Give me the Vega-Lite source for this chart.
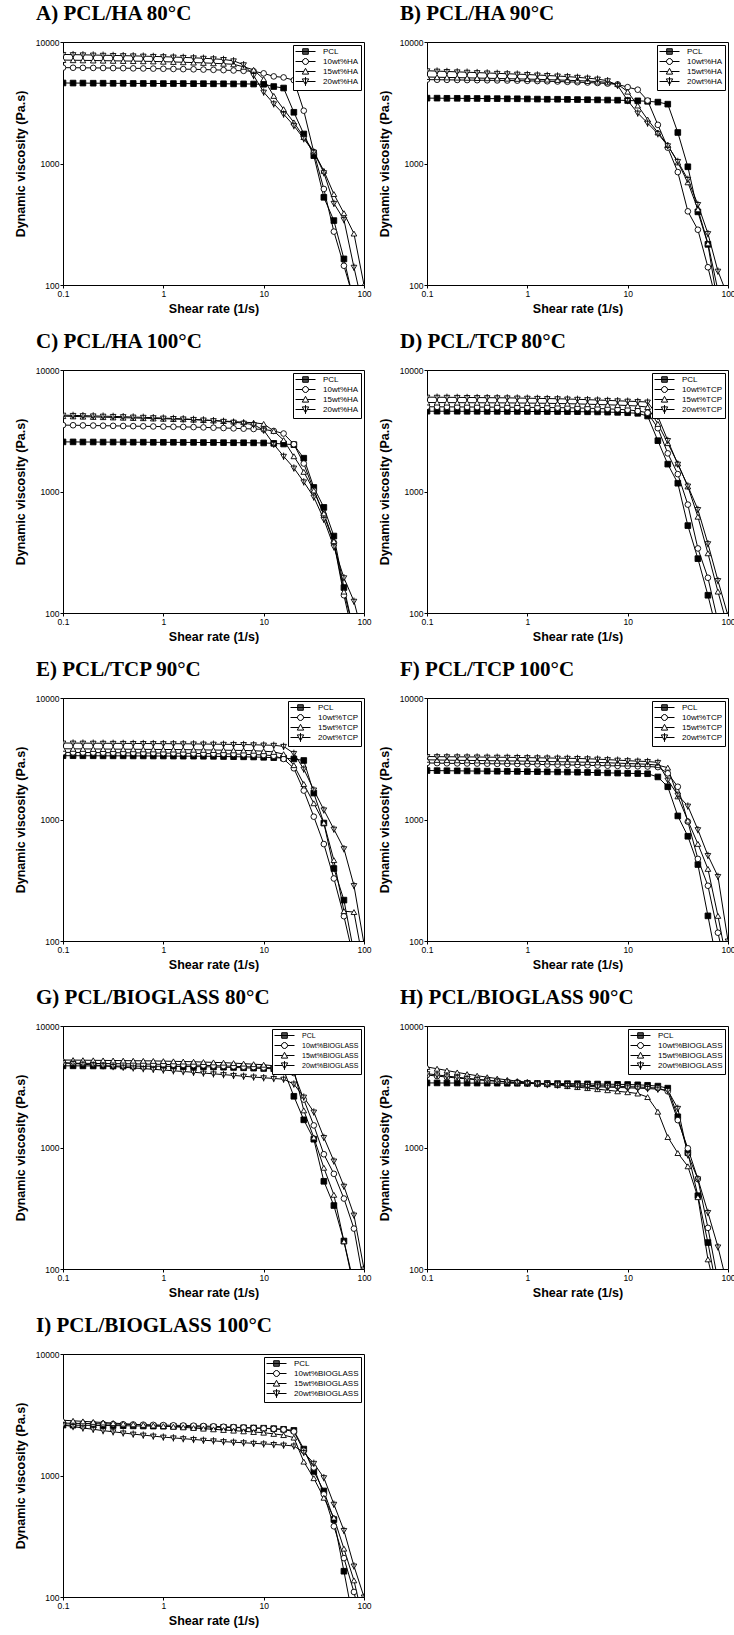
{
"$schema": "https://vega.github.io/schema/vega-lite/v6.json",
"background": "white",
"padding": {"left": 13, "top": 2, "right": 0, "bottom": 0},
"columns": 2,
"spacing": {"row": 14, "column": 5},
"resolve": {"scale": {"shape": "independent", "fill": "independent", "stroke": "independent"}},
"datasets": {
"ha80": [
{"sample":"PCL","rate":0.1,"visc":4600},{"sample":"PCL","rate":0.126,"visc":4590},{"sample":"PCL","rate":0.158,"visc":4590},{"sample":"PCL","rate":0.2,"visc":4580},{"sample":"PCL","rate":0.251,"visc":4580},{"sample":"PCL","rate":0.316,"visc":4570},{"sample":"PCL","rate":0.398,"visc":4570},{"sample":"PCL","rate":0.501,"visc":4560},{"sample":"PCL","rate":0.631,"visc":4560},{"sample":"PCL","rate":0.794,"visc":4560},{"sample":"PCL","rate":1,"visc":4550},{"sample":"PCL","rate":1.26,"visc":4550},{"sample":"PCL","rate":1.58,"visc":4550},{"sample":"PCL","rate":2,"visc":4540},{"sample":"PCL","rate":2.51,"visc":4540},{"sample":"PCL","rate":3.16,"visc":4530},{"sample":"PCL","rate":3.98,"visc":4530},{"sample":"PCL","rate":5.01,"visc":4520},{"sample":"PCL","rate":6.31,"visc":4520},{"sample":"PCL","rate":7.94,"visc":4510},{"sample":"PCL","rate":10,"visc":4490},{"sample":"PCL","rate":12.6,"visc":4300},{"sample":"PCL","rate":15.8,"visc":4180},{"sample":"PCL","rate":20,"visc":2640},{"sample":"PCL","rate":25.1,"visc":1750},{"sample":"PCL","rate":31.6,"visc":1160},{"sample":"PCL","rate":39.8,"visc":527},{"sample":"PCL","rate":50.1,"visc":339},{"sample":"PCL","rate":63.1,"visc":164},{"sample":"PCL","rate":79.4,"visc":72},
{"sample":"10wt%HA","rate":0.1,"visc":6150},{"sample":"10wt%HA","rate":0.126,"visc":6140},{"sample":"10wt%HA","rate":0.158,"visc":6130},{"sample":"10wt%HA","rate":0.2,"visc":6120},{"sample":"10wt%HA","rate":0.251,"visc":6110},{"sample":"10wt%HA","rate":0.316,"visc":6100},{"sample":"10wt%HA","rate":0.398,"visc":6090},{"sample":"10wt%HA","rate":0.501,"visc":6070},{"sample":"10wt%HA","rate":0.631,"visc":6060},{"sample":"10wt%HA","rate":0.794,"visc":6040},{"sample":"10wt%HA","rate":1,"visc":6020},{"sample":"10wt%HA","rate":1.26,"visc":6000},{"sample":"10wt%HA","rate":1.58,"visc":5980},{"sample":"10wt%HA","rate":2,"visc":5960},{"sample":"10wt%HA","rate":2.51,"visc":5930},{"sample":"10wt%HA","rate":3.16,"visc":5900},{"sample":"10wt%HA","rate":3.98,"visc":5870},{"sample":"10wt%HA","rate":5.01,"visc":5830},{"sample":"10wt%HA","rate":6.31,"visc":5790},{"sample":"10wt%HA","rate":7.94,"visc":5740},{"sample":"10wt%HA","rate":10,"visc":5520},{"sample":"10wt%HA","rate":12.6,"visc":5210},{"sample":"10wt%HA","rate":15.8,"visc":5110},{"sample":"10wt%HA","rate":20,"visc":4850},{"sample":"10wt%HA","rate":25.1,"visc":2720},{"sample":"10wt%HA","rate":31.6,"visc":1240},{"sample":"10wt%HA","rate":39.8,"visc":617},{"sample":"10wt%HA","rate":50.1,"visc":275},{"sample":"10wt%HA","rate":63.1,"visc":144},{"sample":"10wt%HA","rate":79.4,"visc":75},
{"sample":"15wt%HA","rate":0.1,"visc":7100},{"sample":"15wt%HA","rate":0.126,"visc":7080},{"sample":"15wt%HA","rate":0.158,"visc":7060},{"sample":"15wt%HA","rate":0.2,"visc":7040},{"sample":"15wt%HA","rate":0.251,"visc":7020},{"sample":"15wt%HA","rate":0.316,"visc":7000},{"sample":"15wt%HA","rate":0.398,"visc":6980},{"sample":"15wt%HA","rate":0.501,"visc":6960},{"sample":"15wt%HA","rate":0.631,"visc":6940},{"sample":"15wt%HA","rate":0.794,"visc":6920},{"sample":"15wt%HA","rate":1,"visc":6880},{"sample":"15wt%HA","rate":1.26,"visc":6850},{"sample":"15wt%HA","rate":1.58,"visc":6810},{"sample":"15wt%HA","rate":2,"visc":6770},{"sample":"15wt%HA","rate":2.51,"visc":6730},{"sample":"15wt%HA","rate":3.16,"visc":6680},{"sample":"15wt%HA","rate":3.98,"visc":6620},{"sample":"15wt%HA","rate":5.01,"visc":6550},{"sample":"15wt%HA","rate":6.31,"visc":6250},{"sample":"15wt%HA","rate":7.94,"visc":5900},{"sample":"15wt%HA","rate":10,"visc":4950},{"sample":"15wt%HA","rate":12.6,"visc":3600},{"sample":"15wt%HA","rate":15.8,"visc":2800},{"sample":"15wt%HA","rate":20,"visc":2180},{"sample":"15wt%HA","rate":25.1,"visc":1650},{"sample":"15wt%HA","rate":31.6,"visc":1250},{"sample":"15wt%HA","rate":39.8,"visc":870},{"sample":"15wt%HA","rate":50.1,"visc":560},{"sample":"15wt%HA","rate":63.1,"visc":390},{"sample":"15wt%HA","rate":79.4,"visc":265},{"sample":"15wt%HA","rate":100,"visc":100},
{"sample":"20wt%HA","rate":0.1,"visc":7900},{"sample":"20wt%HA","rate":0.126,"visc":7870},{"sample":"20wt%HA","rate":0.158,"visc":7840},{"sample":"20wt%HA","rate":0.2,"visc":7810},{"sample":"20wt%HA","rate":0.251,"visc":7780},{"sample":"20wt%HA","rate":0.316,"visc":7750},{"sample":"20wt%HA","rate":0.398,"visc":7720},{"sample":"20wt%HA","rate":0.501,"visc":7690},{"sample":"20wt%HA","rate":0.631,"visc":7650},{"sample":"20wt%HA","rate":0.794,"visc":7610},{"sample":"20wt%HA","rate":1,"visc":7570},{"sample":"20wt%HA","rate":1.26,"visc":7520},{"sample":"20wt%HA","rate":1.58,"visc":7470},{"sample":"20wt%HA","rate":2,"visc":7410},{"sample":"20wt%HA","rate":2.51,"visc":7350},{"sample":"20wt%HA","rate":3.16,"visc":7270},{"sample":"20wt%HA","rate":3.98,"visc":7180},{"sample":"20wt%HA","rate":5.01,"visc":7000},{"sample":"20wt%HA","rate":6.31,"visc":6500},{"sample":"20wt%HA","rate":7.94,"visc":5300},{"sample":"20wt%HA","rate":10,"visc":3870},{"sample":"20wt%HA","rate":12.6,"visc":3100},{"sample":"20wt%HA","rate":15.8,"visc":2550},{"sample":"20wt%HA","rate":20,"visc":2050},{"sample":"20wt%HA","rate":25.1,"visc":1600},{"sample":"20wt%HA","rate":31.6,"visc":1240},{"sample":"20wt%HA","rate":39.8,"visc":840},{"sample":"20wt%HA","rate":50.1,"visc":470},{"sample":"20wt%HA","rate":63.1,"visc":345},{"sample":"20wt%HA","rate":79.4,"visc":140},{"sample":"20wt%HA","rate":100,"visc":60}
],
"ha90": [
{"sample":"PCL","rate":0.1,"visc":3450},{"sample":"PCL","rate":0.126,"visc":3450},{"sample":"PCL","rate":0.158,"visc":3440},{"sample":"PCL","rate":0.2,"visc":3440},{"sample":"PCL","rate":0.251,"visc":3430},{"sample":"PCL","rate":0.316,"visc":3430},{"sample":"PCL","rate":0.398,"visc":3420},{"sample":"PCL","rate":0.501,"visc":3420},{"sample":"PCL","rate":0.631,"visc":3410},{"sample":"PCL","rate":0.794,"visc":3410},{"sample":"PCL","rate":1,"visc":3400},{"sample":"PCL","rate":1.26,"visc":3390},{"sample":"PCL","rate":1.58,"visc":3380},{"sample":"PCL","rate":2,"visc":3380},{"sample":"PCL","rate":2.51,"visc":3370},{"sample":"PCL","rate":3.16,"visc":3360},{"sample":"PCL","rate":3.98,"visc":3350},{"sample":"PCL","rate":5.01,"visc":3340},{"sample":"PCL","rate":6.31,"visc":3330},{"sample":"PCL","rate":7.94,"visc":3320},{"sample":"PCL","rate":10,"visc":3300},{"sample":"PCL","rate":12.6,"visc":3280},{"sample":"PCL","rate":15.8,"visc":3250},{"sample":"PCL","rate":20,"visc":3200},{"sample":"PCL","rate":25.1,"visc":3080},{"sample":"PCL","rate":31.6,"visc":1800},{"sample":"PCL","rate":39.8,"visc":940},{"sample":"PCL","rate":50.1,"visc":400},{"sample":"PCL","rate":63.1,"visc":216},{"sample":"PCL","rate":79.4,"visc":68},
{"sample":"10wt%HA","rate":0.1,"visc":4900},{"sample":"10wt%HA","rate":0.126,"visc":4890},{"sample":"10wt%HA","rate":0.158,"visc":4880},{"sample":"10wt%HA","rate":0.2,"visc":4870},{"sample":"10wt%HA","rate":0.251,"visc":4860},{"sample":"10wt%HA","rate":0.316,"visc":4850},{"sample":"10wt%HA","rate":0.398,"visc":4840},{"sample":"10wt%HA","rate":0.501,"visc":4830},{"sample":"10wt%HA","rate":0.631,"visc":4820},{"sample":"10wt%HA","rate":0.794,"visc":4810},{"sample":"10wt%HA","rate":1,"visc":4790},{"sample":"10wt%HA","rate":1.26,"visc":4770},{"sample":"10wt%HA","rate":1.58,"visc":4750},{"sample":"10wt%HA","rate":2,"visc":4730},{"sample":"10wt%HA","rate":2.51,"visc":4700},{"sample":"10wt%HA","rate":3.16,"visc":4670},{"sample":"10wt%HA","rate":3.98,"visc":4640},{"sample":"10wt%HA","rate":5.01,"visc":4600},{"sample":"10wt%HA","rate":6.31,"visc":4550},{"sample":"10wt%HA","rate":7.94,"visc":4480},{"sample":"10wt%HA","rate":10,"visc":4250},{"sample":"10wt%HA","rate":12.6,"visc":4050},{"sample":"10wt%HA","rate":15.8,"visc":3300},{"sample":"10wt%HA","rate":20,"visc":2080},{"sample":"10wt%HA","rate":25.1,"visc":1350},{"sample":"10wt%HA","rate":31.6,"visc":850},{"sample":"10wt%HA","rate":39.8,"visc":404},{"sample":"10wt%HA","rate":50.1,"visc":285},{"sample":"10wt%HA","rate":63.1,"visc":140},{"sample":"10wt%HA","rate":79.4,"visc":65},
{"sample":"15wt%HA","rate":0.1,"visc":5150},{"sample":"15wt%HA","rate":0.126,"visc":5130},{"sample":"15wt%HA","rate":0.158,"visc":5110},{"sample":"15wt%HA","rate":0.2,"visc":5090},{"sample":"15wt%HA","rate":0.251,"visc":5070},{"sample":"15wt%HA","rate":0.316,"visc":5050},{"sample":"15wt%HA","rate":0.398,"visc":5030},{"sample":"15wt%HA","rate":0.501,"visc":5010},{"sample":"15wt%HA","rate":0.631,"visc":4990},{"sample":"15wt%HA","rate":0.794,"visc":4970},{"sample":"15wt%HA","rate":1,"visc":4950},{"sample":"15wt%HA","rate":1.26,"visc":4930},{"sample":"15wt%HA","rate":1.58,"visc":4900},{"sample":"15wt%HA","rate":2,"visc":4870},{"sample":"15wt%HA","rate":2.51,"visc":4840},{"sample":"15wt%HA","rate":3.16,"visc":4810},{"sample":"15wt%HA","rate":3.98,"visc":4770},{"sample":"15wt%HA","rate":5.01,"visc":4720},{"sample":"15wt%HA","rate":6.31,"visc":4650},{"sample":"15wt%HA","rate":7.94,"visc":4500},{"sample":"15wt%HA","rate":10,"visc":3900},{"sample":"15wt%HA","rate":12.6,"visc":3000},{"sample":"15wt%HA","rate":15.8,"visc":2300},{"sample":"15wt%HA","rate":20,"visc":1800},{"sample":"15wt%HA","rate":25.1,"visc":1420},{"sample":"15wt%HA","rate":31.6,"visc":1020},{"sample":"15wt%HA","rate":39.8,"visc":700},{"sample":"15wt%HA","rate":50.1,"visc":420},{"sample":"15wt%HA","rate":63.1,"visc":220},{"sample":"15wt%HA","rate":79.4,"visc":90},
{"sample":"20wt%HA","rate":0.1,"visc":5800},{"sample":"20wt%HA","rate":0.126,"visc":5760},{"sample":"20wt%HA","rate":0.158,"visc":5720},{"sample":"20wt%HA","rate":0.2,"visc":5680},{"sample":"20wt%HA","rate":0.251,"visc":5640},{"sample":"20wt%HA","rate":0.316,"visc":5600},{"sample":"20wt%HA","rate":0.398,"visc":5560},{"sample":"20wt%HA","rate":0.501,"visc":5520},{"sample":"20wt%HA","rate":0.631,"visc":5480},{"sample":"20wt%HA","rate":0.794,"visc":5440},{"sample":"20wt%HA","rate":1,"visc":5400},{"sample":"20wt%HA","rate":1.26,"visc":5350},{"sample":"20wt%HA","rate":1.58,"visc":5300},{"sample":"20wt%HA","rate":2,"visc":5250},{"sample":"20wt%HA","rate":2.51,"visc":5190},{"sample":"20wt%HA","rate":3.16,"visc":5120},{"sample":"20wt%HA","rate":3.98,"visc":5040},{"sample":"20wt%HA","rate":5.01,"visc":4950},{"sample":"20wt%HA","rate":6.31,"visc":4800},{"sample":"20wt%HA","rate":7.94,"visc":4400},{"sample":"20wt%HA","rate":10,"visc":3300},{"sample":"20wt%HA","rate":12.6,"visc":2600},{"sample":"20wt%HA","rate":15.8,"visc":2150},{"sample":"20wt%HA","rate":20,"visc":1760},{"sample":"20wt%HA","rate":25.1,"visc":1400},{"sample":"20wt%HA","rate":31.6,"visc":1040},{"sample":"20wt%HA","rate":39.8,"visc":740},{"sample":"20wt%HA","rate":50.1,"visc":460},{"sample":"20wt%HA","rate":63.1,"visc":265},{"sample":"20wt%HA","rate":79.4,"visc":130},{"sample":"20wt%HA","rate":100,"visc":80}
],
"ha100": [
{"sample":"PCL","rate":0.1,"visc":2560},{"sample":"PCL","rate":0.126,"visc":2560},{"sample":"PCL","rate":0.158,"visc":2555},{"sample":"PCL","rate":0.2,"visc":2555},{"sample":"PCL","rate":0.251,"visc":2550},{"sample":"PCL","rate":0.316,"visc":2550},{"sample":"PCL","rate":0.398,"visc":2550},{"sample":"PCL","rate":0.501,"visc":2545},{"sample":"PCL","rate":0.631,"visc":2545},{"sample":"PCL","rate":0.794,"visc":2540},{"sample":"PCL","rate":1,"visc":2540},{"sample":"PCL","rate":1.26,"visc":2540},{"sample":"PCL","rate":1.58,"visc":2535},{"sample":"PCL","rate":2,"visc":2535},{"sample":"PCL","rate":2.51,"visc":2530},{"sample":"PCL","rate":3.16,"visc":2530},{"sample":"PCL","rate":3.98,"visc":2525},{"sample":"PCL","rate":5.01,"visc":2520},{"sample":"PCL","rate":6.31,"visc":2520},{"sample":"PCL","rate":7.94,"visc":2515},{"sample":"PCL","rate":10,"visc":2510},{"sample":"PCL","rate":12.6,"visc":2490},{"sample":"PCL","rate":15.8,"visc":2460},{"sample":"PCL","rate":20,"visc":2430},{"sample":"PCL","rate":25.1,"visc":1880},{"sample":"PCL","rate":31.6,"visc":1080},{"sample":"PCL","rate":39.8,"visc":740},{"sample":"PCL","rate":50.1,"visc":430},{"sample":"PCL","rate":63.1,"visc":162},{"sample":"PCL","rate":79.4,"visc":70},
{"sample":"10wt%HA","rate":0.1,"visc":3520},{"sample":"10wt%HA","rate":0.126,"visc":3510},{"sample":"10wt%HA","rate":0.158,"visc":3500},{"sample":"10wt%HA","rate":0.2,"visc":3490},{"sample":"10wt%HA","rate":0.251,"visc":3480},{"sample":"10wt%HA","rate":0.316,"visc":3470},{"sample":"10wt%HA","rate":0.398,"visc":3460},{"sample":"10wt%HA","rate":0.501,"visc":3450},{"sample":"10wt%HA","rate":0.631,"visc":3440},{"sample":"10wt%HA","rate":0.794,"visc":3430},{"sample":"10wt%HA","rate":1,"visc":3420},{"sample":"10wt%HA","rate":1.26,"visc":3410},{"sample":"10wt%HA","rate":1.58,"visc":3400},{"sample":"10wt%HA","rate":2,"visc":3390},{"sample":"10wt%HA","rate":2.51,"visc":3370},{"sample":"10wt%HA","rate":3.16,"visc":3350},{"sample":"10wt%HA","rate":3.98,"visc":3330},{"sample":"10wt%HA","rate":5.01,"visc":3310},{"sample":"10wt%HA","rate":6.31,"visc":3290},{"sample":"10wt%HA","rate":7.94,"visc":3270},{"sample":"10wt%HA","rate":10,"visc":3240},{"sample":"10wt%HA","rate":12.6,"visc":3150},{"sample":"10wt%HA","rate":15.8,"visc":3000},{"sample":"10wt%HA","rate":20,"visc":2450},{"sample":"10wt%HA","rate":25.1,"visc":1700},{"sample":"10wt%HA","rate":31.6,"visc":1020},{"sample":"10wt%HA","rate":39.8,"visc":640},{"sample":"10wt%HA","rate":50.1,"visc":380},{"sample":"10wt%HA","rate":63.1,"visc":140},{"sample":"10wt%HA","rate":79.4,"visc":60},
{"sample":"15wt%HA","rate":0.1,"visc":4170},{"sample":"15wt%HA","rate":0.126,"visc":4150},{"sample":"15wt%HA","rate":0.158,"visc":4130},{"sample":"15wt%HA","rate":0.2,"visc":4110},{"sample":"15wt%HA","rate":0.251,"visc":4090},{"sample":"15wt%HA","rate":0.316,"visc":4070},{"sample":"15wt%HA","rate":0.398,"visc":4050},{"sample":"15wt%HA","rate":0.501,"visc":4030},{"sample":"15wt%HA","rate":0.631,"visc":4010},{"sample":"15wt%HA","rate":0.794,"visc":3990},{"sample":"15wt%HA","rate":1,"visc":3970},{"sample":"15wt%HA","rate":1.26,"visc":3950},{"sample":"15wt%HA","rate":1.58,"visc":3930},{"sample":"15wt%HA","rate":2,"visc":3900},{"sample":"15wt%HA","rate":2.51,"visc":3870},{"sample":"15wt%HA","rate":3.16,"visc":3840},{"sample":"15wt%HA","rate":3.98,"visc":3800},{"sample":"15wt%HA","rate":5.01,"visc":3760},{"sample":"15wt%HA","rate":6.31,"visc":3720},{"sample":"15wt%HA","rate":7.94,"visc":3680},{"sample":"15wt%HA","rate":10,"visc":3600},{"sample":"15wt%HA","rate":12.6,"visc":3150},{"sample":"15wt%HA","rate":15.8,"visc":2650},{"sample":"15wt%HA","rate":20,"visc":1950},{"sample":"15wt%HA","rate":25.1,"visc":1450},{"sample":"15wt%HA","rate":31.6,"visc":1020},{"sample":"15wt%HA","rate":39.8,"visc":660},{"sample":"15wt%HA","rate":50.1,"visc":390},{"sample":"15wt%HA","rate":63.1,"visc":150},{"sample":"15wt%HA","rate":79.4,"visc":70},
{"sample":"20wt%HA","rate":0.1,"visc":4250},{"sample":"20wt%HA","rate":0.126,"visc":4230},{"sample":"20wt%HA","rate":0.158,"visc":4210},{"sample":"20wt%HA","rate":0.2,"visc":4190},{"sample":"20wt%HA","rate":0.251,"visc":4170},{"sample":"20wt%HA","rate":0.316,"visc":4150},{"sample":"20wt%HA","rate":0.398,"visc":4130},{"sample":"20wt%HA","rate":0.501,"visc":4100},{"sample":"20wt%HA","rate":0.631,"visc":4080},{"sample":"20wt%HA","rate":0.794,"visc":4050},{"sample":"20wt%HA","rate":1,"visc":4020},{"sample":"20wt%HA","rate":1.26,"visc":3990},{"sample":"20wt%HA","rate":1.58,"visc":3960},{"sample":"20wt%HA","rate":2,"visc":3920},{"sample":"20wt%HA","rate":2.51,"visc":3880},{"sample":"20wt%HA","rate":3.16,"visc":3830},{"sample":"20wt%HA","rate":3.98,"visc":3780},{"sample":"20wt%HA","rate":5.01,"visc":3720},{"sample":"20wt%HA","rate":6.31,"visc":3650},{"sample":"20wt%HA","rate":7.94,"visc":3550},{"sample":"20wt%HA","rate":10,"visc":3200},{"sample":"20wt%HA","rate":12.6,"visc":2450},{"sample":"20wt%HA","rate":15.8,"visc":1950},{"sample":"20wt%HA","rate":20,"visc":1560},{"sample":"20wt%HA","rate":25.1,"visc":1200},{"sample":"20wt%HA","rate":31.6,"visc":900},{"sample":"20wt%HA","rate":39.8,"visc":590},{"sample":"20wt%HA","rate":50.1,"visc":350},{"sample":"20wt%HA","rate":63.1,"visc":195},{"sample":"20wt%HA","rate":79.4,"visc":125},{"sample":"20wt%HA","rate":100,"visc":60}
],
"tcp80": [
{"sample":"PCL","rate":0.1,"visc":4580},{"sample":"PCL","rate":0.126,"visc":4580},{"sample":"PCL","rate":0.158,"visc":4575},{"sample":"PCL","rate":0.2,"visc":4575},{"sample":"PCL","rate":0.251,"visc":4570},{"sample":"PCL","rate":0.316,"visc":4570},{"sample":"PCL","rate":0.398,"visc":4565},{"sample":"PCL","rate":0.501,"visc":4565},{"sample":"PCL","rate":0.631,"visc":4560},{"sample":"PCL","rate":0.794,"visc":4560},{"sample":"PCL","rate":1,"visc":4555},{"sample":"PCL","rate":1.26,"visc":4555},{"sample":"PCL","rate":1.58,"visc":4550},{"sample":"PCL","rate":2,"visc":4550},{"sample":"PCL","rate":2.51,"visc":4545},{"sample":"PCL","rate":3.16,"visc":4540},{"sample":"PCL","rate":3.98,"visc":4530},{"sample":"PCL","rate":5.01,"visc":4520},{"sample":"PCL","rate":6.31,"visc":4500},{"sample":"PCL","rate":7.94,"visc":4480},{"sample":"PCL","rate":10,"visc":4450},{"sample":"PCL","rate":12.6,"visc":4400},{"sample":"PCL","rate":15.8,"visc":4180},{"sample":"PCL","rate":20,"visc":2620},{"sample":"PCL","rate":25.1,"visc":1680},{"sample":"PCL","rate":31.6,"visc":1170},{"sample":"PCL","rate":39.8,"visc":524},{"sample":"PCL","rate":50.1,"visc":280},{"sample":"PCL","rate":63.1,"visc":140},{"sample":"PCL","rate":79.4,"visc":65},
{"sample":"10wt%TCP","rate":0.1,"visc":4980},{"sample":"10wt%TCP","rate":0.126,"visc":4975},{"sample":"10wt%TCP","rate":0.158,"visc":4970},{"sample":"10wt%TCP","rate":0.2,"visc":4965},{"sample":"10wt%TCP","rate":0.251,"visc":4960},{"sample":"10wt%TCP","rate":0.316,"visc":4955},{"sample":"10wt%TCP","rate":0.398,"visc":4950},{"sample":"10wt%TCP","rate":0.501,"visc":4945},{"sample":"10wt%TCP","rate":0.631,"visc":4940},{"sample":"10wt%TCP","rate":0.794,"visc":4935},{"sample":"10wt%TCP","rate":1,"visc":4930},{"sample":"10wt%TCP","rate":1.26,"visc":4920},{"sample":"10wt%TCP","rate":1.58,"visc":4910},{"sample":"10wt%TCP","rate":2,"visc":4900},{"sample":"10wt%TCP","rate":2.51,"visc":4890},{"sample":"10wt%TCP","rate":3.16,"visc":4870},{"sample":"10wt%TCP","rate":3.98,"visc":4850},{"sample":"10wt%TCP","rate":5.01,"visc":4820},{"sample":"10wt%TCP","rate":6.31,"visc":4790},{"sample":"10wt%TCP","rate":7.94,"visc":4750},{"sample":"10wt%TCP","rate":10,"visc":4700},{"sample":"10wt%TCP","rate":12.6,"visc":4600},{"sample":"10wt%TCP","rate":15.8,"visc":4450},{"sample":"10wt%TCP","rate":20,"visc":3320},{"sample":"10wt%TCP","rate":25.1,"visc":2060},{"sample":"10wt%TCP","rate":31.6,"visc":1390},{"sample":"10wt%TCP","rate":39.8,"visc":780},{"sample":"10wt%TCP","rate":50.1,"visc":340},{"sample":"10wt%TCP","rate":63.1,"visc":195},{"sample":"10wt%TCP","rate":79.4,"visc":85},
{"sample":"15wt%TCP","rate":0.1,"visc":5400},{"sample":"15wt%TCP","rate":0.126,"visc":5395},{"sample":"15wt%TCP","rate":0.158,"visc":5390},{"sample":"15wt%TCP","rate":0.2,"visc":5385},{"sample":"15wt%TCP","rate":0.251,"visc":5380},{"sample":"15wt%TCP","rate":0.316,"visc":5375},{"sample":"15wt%TCP","rate":0.398,"visc":5370},{"sample":"15wt%TCP","rate":0.501,"visc":5365},{"sample":"15wt%TCP","rate":0.631,"visc":5360},{"sample":"15wt%TCP","rate":0.794,"visc":5350},{"sample":"15wt%TCP","rate":1,"visc":5340},{"sample":"15wt%TCP","rate":1.26,"visc":5330},{"sample":"15wt%TCP","rate":1.58,"visc":5320},{"sample":"15wt%TCP","rate":2,"visc":5300},{"sample":"15wt%TCP","rate":2.51,"visc":5280},{"sample":"15wt%TCP","rate":3.16,"visc":5260},{"sample":"15wt%TCP","rate":3.98,"visc":5230},{"sample":"15wt%TCP","rate":5.01,"visc":5200},{"sample":"15wt%TCP","rate":6.31,"visc":5170},{"sample":"15wt%TCP","rate":7.94,"visc":5140},{"sample":"15wt%TCP","rate":10,"visc":5100},{"sample":"15wt%TCP","rate":12.6,"visc":5050},{"sample":"15wt%TCP","rate":15.8,"visc":4950},{"sample":"15wt%TCP","rate":20,"visc":3600},{"sample":"15wt%TCP","rate":25.1,"visc":2500},{"sample":"15wt%TCP","rate":31.6,"visc":1700},{"sample":"15wt%TCP","rate":39.8,"visc":1100},{"sample":"15wt%TCP","rate":50.1,"visc":620},{"sample":"15wt%TCP","rate":63.1,"visc":310},{"sample":"15wt%TCP","rate":79.4,"visc":150},{"sample":"15wt%TCP","rate":100,"visc":75},
{"sample":"20wt%TCP","rate":0.1,"visc":5980},{"sample":"20wt%TCP","rate":0.126,"visc":5970},{"sample":"20wt%TCP","rate":0.158,"visc":5960},{"sample":"20wt%TCP","rate":0.2,"visc":5950},{"sample":"20wt%TCP","rate":0.251,"visc":5940},{"sample":"20wt%TCP","rate":0.316,"visc":5930},{"sample":"20wt%TCP","rate":0.398,"visc":5920},{"sample":"20wt%TCP","rate":0.501,"visc":5910},{"sample":"20wt%TCP","rate":0.631,"visc":5900},{"sample":"20wt%TCP","rate":0.794,"visc":5880},{"sample":"20wt%TCP","rate":1,"visc":5860},{"sample":"20wt%TCP","rate":1.26,"visc":5840},{"sample":"20wt%TCP","rate":1.58,"visc":5820},{"sample":"20wt%TCP","rate":2,"visc":5800},{"sample":"20wt%TCP","rate":2.51,"visc":5770},{"sample":"20wt%TCP","rate":3.16,"visc":5740},{"sample":"20wt%TCP","rate":3.98,"visc":5700},{"sample":"20wt%TCP","rate":5.01,"visc":5660},{"sample":"20wt%TCP","rate":6.31,"visc":5620},{"sample":"20wt%TCP","rate":7.94,"visc":5580},{"sample":"20wt%TCP","rate":10,"visc":5540},{"sample":"20wt%TCP","rate":12.6,"visc":5500},{"sample":"20wt%TCP","rate":15.8,"visc":5450},{"sample":"20wt%TCP","rate":20,"visc":4150},{"sample":"20wt%TCP","rate":25.1,"visc":2630},{"sample":"20wt%TCP","rate":31.6,"visc":1680},{"sample":"20wt%TCP","rate":39.8,"visc":1110},{"sample":"20wt%TCP","rate":50.1,"visc":711},{"sample":"20wt%TCP","rate":63.1,"visc":372},{"sample":"20wt%TCP","rate":79.4,"visc":185},{"sample":"20wt%TCP","rate":100,"visc":95}
],
"tcp90": [
{"sample":"PCL","rate":0.1,"visc":3350},{"sample":"PCL","rate":0.126,"visc":3350},{"sample":"PCL","rate":0.158,"visc":3345},{"sample":"PCL","rate":0.2,"visc":3345},{"sample":"PCL","rate":0.251,"visc":3340},{"sample":"PCL","rate":0.316,"visc":3340},{"sample":"PCL","rate":0.398,"visc":3340},{"sample":"PCL","rate":0.501,"visc":3335},{"sample":"PCL","rate":0.631,"visc":3335},{"sample":"PCL","rate":0.794,"visc":3330},{"sample":"PCL","rate":1,"visc":3330},{"sample":"PCL","rate":1.26,"visc":3325},{"sample":"PCL","rate":1.58,"visc":3320},{"sample":"PCL","rate":2,"visc":3320},{"sample":"PCL","rate":2.51,"visc":3315},{"sample":"PCL","rate":3.16,"visc":3310},{"sample":"PCL","rate":3.98,"visc":3300},{"sample":"PCL","rate":5.01,"visc":3290},{"sample":"PCL","rate":6.31,"visc":3280},{"sample":"PCL","rate":7.94,"visc":3270},{"sample":"PCL","rate":10,"visc":3250},{"sample":"PCL","rate":12.6,"visc":3230},{"sample":"PCL","rate":15.8,"visc":3200},{"sample":"PCL","rate":20,"visc":3150},{"sample":"PCL","rate":25.1,"visc":3060},{"sample":"PCL","rate":31.6,"visc":1650},{"sample":"PCL","rate":39.8,"visc":935},{"sample":"PCL","rate":50.1,"visc":395},{"sample":"PCL","rate":63.1,"visc":217},{"sample":"PCL","rate":79.4,"visc":80},
{"sample":"10wt%TCP","rate":0.1,"visc":3570},{"sample":"10wt%TCP","rate":0.126,"visc":3565},{"sample":"10wt%TCP","rate":0.158,"visc":3560},{"sample":"10wt%TCP","rate":0.2,"visc":3555},{"sample":"10wt%TCP","rate":0.251,"visc":3550},{"sample":"10wt%TCP","rate":0.316,"visc":3545},{"sample":"10wt%TCP","rate":0.398,"visc":3540},{"sample":"10wt%TCP","rate":0.501,"visc":3535},{"sample":"10wt%TCP","rate":0.631,"visc":3530},{"sample":"10wt%TCP","rate":0.794,"visc":3525},{"sample":"10wt%TCP","rate":1,"visc":3520},{"sample":"10wt%TCP","rate":1.26,"visc":3515},{"sample":"10wt%TCP","rate":1.58,"visc":3510},{"sample":"10wt%TCP","rate":2,"visc":3500},{"sample":"10wt%TCP","rate":2.51,"visc":3490},{"sample":"10wt%TCP","rate":3.16,"visc":3480},{"sample":"10wt%TCP","rate":3.98,"visc":3470},{"sample":"10wt%TCP","rate":5.01,"visc":3460},{"sample":"10wt%TCP","rate":6.31,"visc":3440},{"sample":"10wt%TCP","rate":7.94,"visc":3420},{"sample":"10wt%TCP","rate":10,"visc":3400},{"sample":"10wt%TCP","rate":12.6,"visc":3350},{"sample":"10wt%TCP","rate":15.8,"visc":3150},{"sample":"10wt%TCP","rate":20,"visc":2640},{"sample":"10wt%TCP","rate":25.1,"visc":1730},{"sample":"10wt%TCP","rate":31.6,"visc":1055},{"sample":"10wt%TCP","rate":39.8,"visc":628},{"sample":"10wt%TCP","rate":50.1,"visc":327},{"sample":"10wt%TCP","rate":63.1,"visc":160},{"sample":"10wt%TCP","rate":79.4,"visc":70},
{"sample":"15wt%TCP","rate":0.1,"visc":3820},{"sample":"15wt%TCP","rate":0.126,"visc":3815},{"sample":"15wt%TCP","rate":0.158,"visc":3810},{"sample":"15wt%TCP","rate":0.2,"visc":3805},{"sample":"15wt%TCP","rate":0.251,"visc":3800},{"sample":"15wt%TCP","rate":0.316,"visc":3795},{"sample":"15wt%TCP","rate":0.398,"visc":3790},{"sample":"15wt%TCP","rate":0.501,"visc":3785},{"sample":"15wt%TCP","rate":0.631,"visc":3780},{"sample":"15wt%TCP","rate":0.794,"visc":3775},{"sample":"15wt%TCP","rate":1,"visc":3770},{"sample":"15wt%TCP","rate":1.26,"visc":3765},{"sample":"15wt%TCP","rate":1.58,"visc":3760},{"sample":"15wt%TCP","rate":2,"visc":3750},{"sample":"15wt%TCP","rate":2.51,"visc":3740},{"sample":"15wt%TCP","rate":3.16,"visc":3730},{"sample":"15wt%TCP","rate":3.98,"visc":3720},{"sample":"15wt%TCP","rate":5.01,"visc":3710},{"sample":"15wt%TCP","rate":6.31,"visc":3700},{"sample":"15wt%TCP","rate":7.94,"visc":3680},{"sample":"15wt%TCP","rate":10,"visc":3650},{"sample":"15wt%TCP","rate":12.6,"visc":3600},{"sample":"15wt%TCP","rate":15.8,"visc":3450},{"sample":"15wt%TCP","rate":20,"visc":2800},{"sample":"15wt%TCP","rate":25.1,"visc":1960},{"sample":"15wt%TCP","rate":31.6,"visc":1360},{"sample":"15wt%TCP","rate":39.8,"visc":940},{"sample":"15wt%TCP","rate":50.1,"visc":463},{"sample":"15wt%TCP","rate":63.1,"visc":176},{"sample":"15wt%TCP","rate":79.4,"visc":173},{"sample":"15wt%TCP","rate":100,"visc":62},
{"sample":"20wt%TCP","rate":0.1,"visc":4260},{"sample":"20wt%TCP","rate":0.126,"visc":4255},{"sample":"20wt%TCP","rate":0.158,"visc":4250},{"sample":"20wt%TCP","rate":0.2,"visc":4245},{"sample":"20wt%TCP","rate":0.251,"visc":4240},{"sample":"20wt%TCP","rate":0.316,"visc":4235},{"sample":"20wt%TCP","rate":0.398,"visc":4230},{"sample":"20wt%TCP","rate":0.501,"visc":4225},{"sample":"20wt%TCP","rate":0.631,"visc":4220},{"sample":"20wt%TCP","rate":0.794,"visc":4215},{"sample":"20wt%TCP","rate":1,"visc":4210},{"sample":"20wt%TCP","rate":1.26,"visc":4205},{"sample":"20wt%TCP","rate":1.58,"visc":4200},{"sample":"20wt%TCP","rate":2,"visc":4190},{"sample":"20wt%TCP","rate":2.51,"visc":4180},{"sample":"20wt%TCP","rate":3.16,"visc":4170},{"sample":"20wt%TCP","rate":3.98,"visc":4160},{"sample":"20wt%TCP","rate":5.01,"visc":4150},{"sample":"20wt%TCP","rate":6.31,"visc":4140},{"sample":"20wt%TCP","rate":7.94,"visc":4120},{"sample":"20wt%TCP","rate":10,"visc":4100},{"sample":"20wt%TCP","rate":12.6,"visc":4080},{"sample":"20wt%TCP","rate":15.8,"visc":4000},{"sample":"20wt%TCP","rate":20,"visc":3500},{"sample":"20wt%TCP","rate":25.1,"visc":2600},{"sample":"20wt%TCP","rate":31.6,"visc":1750},{"sample":"20wt%TCP","rate":39.8,"visc":1200},{"sample":"20wt%TCP","rate":50.1,"visc":833},{"sample":"20wt%TCP","rate":63.1,"visc":575},{"sample":"20wt%TCP","rate":79.4,"visc":286},{"sample":"20wt%TCP","rate":100,"visc":95}
],
"tcp100": [
{"sample":"PCL","rate":0.1,"visc":2530},{"sample":"PCL","rate":0.126,"visc":2525},{"sample":"PCL","rate":0.158,"visc":2520},{"sample":"PCL","rate":0.2,"visc":2515},{"sample":"PCL","rate":0.251,"visc":2510},{"sample":"PCL","rate":0.316,"visc":2505},{"sample":"PCL","rate":0.398,"visc":2500},{"sample":"PCL","rate":0.501,"visc":2495},{"sample":"PCL","rate":0.631,"visc":2490},{"sample":"PCL","rate":0.794,"visc":2485},{"sample":"PCL","rate":1,"visc":2480},{"sample":"PCL","rate":1.26,"visc":2475},{"sample":"PCL","rate":1.58,"visc":2470},{"sample":"PCL","rate":2,"visc":2465},{"sample":"PCL","rate":2.51,"visc":2460},{"sample":"PCL","rate":3.16,"visc":2450},{"sample":"PCL","rate":3.98,"visc":2440},{"sample":"PCL","rate":5.01,"visc":2430},{"sample":"PCL","rate":6.31,"visc":2420},{"sample":"PCL","rate":7.94,"visc":2410},{"sample":"PCL","rate":10,"visc":2400},{"sample":"PCL","rate":12.6,"visc":2390},{"sample":"PCL","rate":15.8,"visc":2380},{"sample":"PCL","rate":20,"visc":2240},{"sample":"PCL","rate":25.1,"visc":1860},{"sample":"PCL","rate":31.6,"visc":1070},{"sample":"PCL","rate":39.8,"visc":728},{"sample":"PCL","rate":50.1,"visc":426},{"sample":"PCL","rate":63.1,"visc":161},{"sample":"PCL","rate":79.4,"visc":60},
{"sample":"10wt%TCP","rate":0.1,"visc":2920},{"sample":"10wt%TCP","rate":0.126,"visc":2910},{"sample":"10wt%TCP","rate":0.158,"visc":2900},{"sample":"10wt%TCP","rate":0.2,"visc":2895},{"sample":"10wt%TCP","rate":0.251,"visc":2890},{"sample":"10wt%TCP","rate":0.316,"visc":2885},{"sample":"10wt%TCP","rate":0.398,"visc":2880},{"sample":"10wt%TCP","rate":0.501,"visc":2870},{"sample":"10wt%TCP","rate":0.631,"visc":2865},{"sample":"10wt%TCP","rate":0.794,"visc":2860},{"sample":"10wt%TCP","rate":1,"visc":2850},{"sample":"10wt%TCP","rate":1.26,"visc":2840},{"sample":"10wt%TCP","rate":1.58,"visc":2830},{"sample":"10wt%TCP","rate":2,"visc":2820},{"sample":"10wt%TCP","rate":2.51,"visc":2810},{"sample":"10wt%TCP","rate":3.16,"visc":2800},{"sample":"10wt%TCP","rate":3.98,"visc":2790},{"sample":"10wt%TCP","rate":5.01,"visc":2780},{"sample":"10wt%TCP","rate":6.31,"visc":2770},{"sample":"10wt%TCP","rate":7.94,"visc":2760},{"sample":"10wt%TCP","rate":10,"visc":2750},{"sample":"10wt%TCP","rate":12.6,"visc":2740},{"sample":"10wt%TCP","rate":15.8,"visc":2730},{"sample":"10wt%TCP","rate":20,"visc":2700},{"sample":"10wt%TCP","rate":25.1,"visc":2400},{"sample":"10wt%TCP","rate":31.6,"visc":1860},{"sample":"10wt%TCP","rate":39.8,"visc":960},{"sample":"10wt%TCP","rate":50.1,"visc":474},{"sample":"10wt%TCP","rate":63.1,"visc":285},{"sample":"10wt%TCP","rate":79.4,"visc":117},{"sample":"10wt%TCP","rate":100,"visc":50},
{"sample":"15wt%TCP","rate":0.1,"visc":3100},{"sample":"15wt%TCP","rate":0.126,"visc":3090},{"sample":"15wt%TCP","rate":0.158,"visc":3080},{"sample":"15wt%TCP","rate":0.2,"visc":3070},{"sample":"15wt%TCP","rate":0.251,"visc":3065},{"sample":"15wt%TCP","rate":0.316,"visc":3060},{"sample":"15wt%TCP","rate":0.398,"visc":3050},{"sample":"15wt%TCP","rate":0.501,"visc":3040},{"sample":"15wt%TCP","rate":0.631,"visc":3035},{"sample":"15wt%TCP","rate":0.794,"visc":3030},{"sample":"15wt%TCP","rate":1,"visc":3020},{"sample":"15wt%TCP","rate":1.26,"visc":3010},{"sample":"15wt%TCP","rate":1.58,"visc":3000},{"sample":"15wt%TCP","rate":2,"visc":2990},{"sample":"15wt%TCP","rate":2.51,"visc":2980},{"sample":"15wt%TCP","rate":3.16,"visc":2970},{"sample":"15wt%TCP","rate":3.98,"visc":2960},{"sample":"15wt%TCP","rate":5.01,"visc":2950},{"sample":"15wt%TCP","rate":6.31,"visc":2930},{"sample":"15wt%TCP","rate":7.94,"visc":2910},{"sample":"15wt%TCP","rate":10,"visc":2890},{"sample":"15wt%TCP","rate":12.6,"visc":2870},{"sample":"15wt%TCP","rate":15.8,"visc":2850},{"sample":"15wt%TCP","rate":20,"visc":2800},{"sample":"15wt%TCP","rate":25.1,"visc":2670},{"sample":"15wt%TCP","rate":31.6,"visc":1550},{"sample":"15wt%TCP","rate":39.8,"visc":980},{"sample":"15wt%TCP","rate":50.1,"visc":630},{"sample":"15wt%TCP","rate":63.1,"visc":392},{"sample":"15wt%TCP","rate":79.4,"visc":161},{"sample":"15wt%TCP","rate":100,"visc":60},
{"sample":"20wt%TCP","rate":0.1,"visc":3300},{"sample":"20wt%TCP","rate":0.126,"visc":3290},{"sample":"20wt%TCP","rate":0.158,"visc":3285},{"sample":"20wt%TCP","rate":0.2,"visc":3280},{"sample":"20wt%TCP","rate":0.251,"visc":3275},{"sample":"20wt%TCP","rate":0.316,"visc":3270},{"sample":"20wt%TCP","rate":0.398,"visc":3260},{"sample":"20wt%TCP","rate":0.501,"visc":3255},{"sample":"20wt%TCP","rate":0.631,"visc":3250},{"sample":"20wt%TCP","rate":0.794,"visc":3240},{"sample":"20wt%TCP","rate":1,"visc":3230},{"sample":"20wt%TCP","rate":1.26,"visc":3220},{"sample":"20wt%TCP","rate":1.58,"visc":3210},{"sample":"20wt%TCP","rate":2,"visc":3200},{"sample":"20wt%TCP","rate":2.51,"visc":3190},{"sample":"20wt%TCP","rate":3.16,"visc":3180},{"sample":"20wt%TCP","rate":3.98,"visc":3160},{"sample":"20wt%TCP","rate":5.01,"visc":3140},{"sample":"20wt%TCP","rate":6.31,"visc":3110},{"sample":"20wt%TCP","rate":7.94,"visc":3080},{"sample":"20wt%TCP","rate":10,"visc":3050},{"sample":"20wt%TCP","rate":12.6,"visc":3020},{"sample":"20wt%TCP","rate":15.8,"visc":3000},{"sample":"20wt%TCP","rate":20,"visc":2950},{"sample":"20wt%TCP","rate":25.1,"visc":2110},{"sample":"20wt%TCP","rate":31.6,"visc":1590},{"sample":"20wt%TCP","rate":39.8,"visc":1290},{"sample":"20wt%TCP","rate":50.1,"visc":825},{"sample":"20wt%TCP","rate":63.1,"visc":506},{"sample":"20wt%TCP","rate":79.4,"visc":340},{"sample":"20wt%TCP","rate":100,"visc":100}
],
"bg80": [
{"sample":"PCL","rate":0.1,"visc":4700},{"sample":"PCL","rate":0.126,"visc":4700},{"sample":"PCL","rate":0.158,"visc":4695},{"sample":"PCL","rate":0.2,"visc":4690},{"sample":"PCL","rate":0.251,"visc":4690},{"sample":"PCL","rate":0.316,"visc":4685},{"sample":"PCL","rate":0.398,"visc":4680},{"sample":"PCL","rate":0.501,"visc":4675},{"sample":"PCL","rate":0.631,"visc":4670},{"sample":"PCL","rate":0.794,"visc":4665},{"sample":"PCL","rate":1,"visc":4660},{"sample":"PCL","rate":1.26,"visc":4650},{"sample":"PCL","rate":1.58,"visc":4640},{"sample":"PCL","rate":2,"visc":4630},{"sample":"PCL","rate":2.51,"visc":4620},{"sample":"PCL","rate":3.16,"visc":4600},{"sample":"PCL","rate":3.98,"visc":4580},{"sample":"PCL","rate":5.01,"visc":4560},{"sample":"PCL","rate":6.31,"visc":4530},{"sample":"PCL","rate":7.94,"visc":4500},{"sample":"PCL","rate":10,"visc":4470},{"sample":"PCL","rate":12.6,"visc":4450},{"sample":"PCL","rate":15.8,"visc":4350},{"sample":"PCL","rate":20,"visc":2640},{"sample":"PCL","rate":25.1,"visc":1690},{"sample":"PCL","rate":31.6,"visc":1170},{"sample":"PCL","rate":39.8,"visc":527},{"sample":"PCL","rate":50.1,"visc":333},{"sample":"PCL","rate":63.1,"visc":170},{"sample":"PCL","rate":79.4,"visc":75},
{"sample":"10wt%BIOGLASS","rate":0.1,"visc":4950},{"sample":"10wt%BIOGLASS","rate":0.126,"visc":4940},{"sample":"10wt%BIOGLASS","rate":0.158,"visc":4930},{"sample":"10wt%BIOGLASS","rate":0.2,"visc":4920},{"sample":"10wt%BIOGLASS","rate":0.251,"visc":4910},{"sample":"10wt%BIOGLASS","rate":0.316,"visc":4900},{"sample":"10wt%BIOGLASS","rate":0.398,"visc":4890},{"sample":"10wt%BIOGLASS","rate":0.501,"visc":4880},{"sample":"10wt%BIOGLASS","rate":0.631,"visc":4860},{"sample":"10wt%BIOGLASS","rate":0.794,"visc":4850},{"sample":"10wt%BIOGLASS","rate":1,"visc":4830},{"sample":"10wt%BIOGLASS","rate":1.26,"visc":4810},{"sample":"10wt%BIOGLASS","rate":1.58,"visc":4790},{"sample":"10wt%BIOGLASS","rate":2,"visc":4770},{"sample":"10wt%BIOGLASS","rate":2.51,"visc":4750},{"sample":"10wt%BIOGLASS","rate":3.16,"visc":4720},{"sample":"10wt%BIOGLASS","rate":3.98,"visc":4690},{"sample":"10wt%BIOGLASS","rate":5.01,"visc":4660},{"sample":"10wt%BIOGLASS","rate":6.31,"visc":4630},{"sample":"10wt%BIOGLASS","rate":7.94,"visc":4600},{"sample":"10wt%BIOGLASS","rate":10,"visc":4560},{"sample":"10wt%BIOGLASS","rate":12.6,"visc":4520},{"sample":"10wt%BIOGLASS","rate":15.8,"visc":4460},{"sample":"10wt%BIOGLASS","rate":20,"visc":4100},{"sample":"10wt%BIOGLASS","rate":25.1,"visc":2480},{"sample":"10wt%BIOGLASS","rate":31.6,"visc":1520},{"sample":"10wt%BIOGLASS","rate":39.8,"visc":880},{"sample":"10wt%BIOGLASS","rate":50.1,"visc":607},{"sample":"10wt%BIOGLASS","rate":63.1,"visc":380},{"sample":"10wt%BIOGLASS","rate":79.4,"visc":215},{"sample":"10wt%BIOGLASS","rate":100,"visc":75},
{"sample":"15wt%BIOGLASS","rate":0.1,"visc":5250},{"sample":"15wt%BIOGLASS","rate":0.126,"visc":5240},{"sample":"15wt%BIOGLASS","rate":0.158,"visc":5230},{"sample":"15wt%BIOGLASS","rate":0.2,"visc":5220},{"sample":"15wt%BIOGLASS","rate":0.251,"visc":5210},{"sample":"15wt%BIOGLASS","rate":0.316,"visc":5200},{"sample":"15wt%BIOGLASS","rate":0.398,"visc":5190},{"sample":"15wt%BIOGLASS","rate":0.501,"visc":5180},{"sample":"15wt%BIOGLASS","rate":0.631,"visc":5170},{"sample":"15wt%BIOGLASS","rate":0.794,"visc":5160},{"sample":"15wt%BIOGLASS","rate":1,"visc":5140},{"sample":"15wt%BIOGLASS","rate":1.26,"visc":5120},{"sample":"15wt%BIOGLASS","rate":1.58,"visc":5100},{"sample":"15wt%BIOGLASS","rate":2,"visc":5080},{"sample":"15wt%BIOGLASS","rate":2.51,"visc":5050},{"sample":"15wt%BIOGLASS","rate":3.16,"visc":5020},{"sample":"15wt%BIOGLASS","rate":3.98,"visc":4990},{"sample":"15wt%BIOGLASS","rate":5.01,"visc":4950},{"sample":"15wt%BIOGLASS","rate":6.31,"visc":4900},{"sample":"15wt%BIOGLASS","rate":7.94,"visc":4850},{"sample":"15wt%BIOGLASS","rate":10,"visc":4800},{"sample":"15wt%BIOGLASS","rate":12.6,"visc":4700},{"sample":"15wt%BIOGLASS","rate":15.8,"visc":4550},{"sample":"15wt%BIOGLASS","rate":20,"visc":4360},{"sample":"15wt%BIOGLASS","rate":25.1,"visc":2020},{"sample":"15wt%BIOGLASS","rate":31.6,"visc":1210},{"sample":"15wt%BIOGLASS","rate":39.8,"visc":681},{"sample":"15wt%BIOGLASS","rate":50.1,"visc":408},{"sample":"15wt%BIOGLASS","rate":63.1,"visc":169},{"sample":"15wt%BIOGLASS","rate":79.4,"visc":70},
{"sample":"20wt%BIOGLASS","rate":0.1,"visc":5000},{"sample":"20wt%BIOGLASS","rate":0.126,"visc":4920},{"sample":"20wt%BIOGLASS","rate":0.158,"visc":4850},{"sample":"20wt%BIOGLASS","rate":0.2,"visc":4780},{"sample":"20wt%BIOGLASS","rate":0.251,"visc":4710},{"sample":"20wt%BIOGLASS","rate":0.316,"visc":4640},{"sample":"20wt%BIOGLASS","rate":0.398,"visc":4580},{"sample":"20wt%BIOGLASS","rate":0.501,"visc":4520},{"sample":"20wt%BIOGLASS","rate":0.631,"visc":4460},{"sample":"20wt%BIOGLASS","rate":0.794,"visc":4400},{"sample":"20wt%BIOGLASS","rate":1,"visc":4340},{"sample":"20wt%BIOGLASS","rate":1.26,"visc":4280},{"sample":"20wt%BIOGLASS","rate":1.58,"visc":4220},{"sample":"20wt%BIOGLASS","rate":2,"visc":4160},{"sample":"20wt%BIOGLASS","rate":2.51,"visc":4100},{"sample":"20wt%BIOGLASS","rate":3.16,"visc":4040},{"sample":"20wt%BIOGLASS","rate":3.98,"visc":3980},{"sample":"20wt%BIOGLASS","rate":5.01,"visc":3920},{"sample":"20wt%BIOGLASS","rate":6.31,"visc":3860},{"sample":"20wt%BIOGLASS","rate":7.94,"visc":3800},{"sample":"20wt%BIOGLASS","rate":10,"visc":3750},{"sample":"20wt%BIOGLASS","rate":12.6,"visc":3700},{"sample":"20wt%BIOGLASS","rate":15.8,"visc":3650},{"sample":"20wt%BIOGLASS","rate":20,"visc":3330},{"sample":"20wt%BIOGLASS","rate":25.1,"visc":2600},{"sample":"20wt%BIOGLASS","rate":31.6,"visc":1960},{"sample":"20wt%BIOGLASS","rate":39.8,"visc":1210},{"sample":"20wt%BIOGLASS","rate":50.1,"visc":774},{"sample":"20wt%BIOGLASS","rate":63.1,"visc":480},{"sample":"20wt%BIOGLASS","rate":79.4,"visc":278},{"sample":"20wt%BIOGLASS","rate":100,"visc":100}
],
"bg90": [
{"sample":"PCL","rate":0.1,"visc":3400},{"sample":"PCL","rate":0.126,"visc":3400},{"sample":"PCL","rate":0.158,"visc":3395},{"sample":"PCL","rate":0.2,"visc":3395},{"sample":"PCL","rate":0.251,"visc":3390},{"sample":"PCL","rate":0.316,"visc":3390},{"sample":"PCL","rate":0.398,"visc":3385},{"sample":"PCL","rate":0.501,"visc":3385},{"sample":"PCL","rate":0.631,"visc":3380},{"sample":"PCL","rate":0.794,"visc":3380},{"sample":"PCL","rate":1,"visc":3375},{"sample":"PCL","rate":1.26,"visc":3370},{"sample":"PCL","rate":1.58,"visc":3365},{"sample":"PCL","rate":2,"visc":3360},{"sample":"PCL","rate":2.51,"visc":3355},{"sample":"PCL","rate":3.16,"visc":3350},{"sample":"PCL","rate":3.98,"visc":3340},{"sample":"PCL","rate":5.01,"visc":3330},{"sample":"PCL","rate":6.31,"visc":3320},{"sample":"PCL","rate":7.94,"visc":3310},{"sample":"PCL","rate":10,"visc":3300},{"sample":"PCL","rate":12.6,"visc":3280},{"sample":"PCL","rate":15.8,"visc":3250},{"sample":"PCL","rate":20,"visc":3200},{"sample":"PCL","rate":25.1,"visc":3080},{"sample":"PCL","rate":31.6,"visc":1790},{"sample":"PCL","rate":39.8,"visc":906},{"sample":"PCL","rate":50.1,"visc":401},{"sample":"PCL","rate":63.1,"visc":165},{"sample":"PCL","rate":79.4,"visc":60},
{"sample":"10wt%BIOGLASS","rate":0.1,"visc":3950},{"sample":"10wt%BIOGLASS","rate":0.126,"visc":3870},{"sample":"10wt%BIOGLASS","rate":0.158,"visc":3800},{"sample":"10wt%BIOGLASS","rate":0.2,"visc":3730},{"sample":"10wt%BIOGLASS","rate":0.251,"visc":3670},{"sample":"10wt%BIOGLASS","rate":0.316,"visc":3610},{"sample":"10wt%BIOGLASS","rate":0.398,"visc":3560},{"sample":"10wt%BIOGLASS","rate":0.501,"visc":3510},{"sample":"10wt%BIOGLASS","rate":0.631,"visc":3470},{"sample":"10wt%BIOGLASS","rate":0.794,"visc":3430},{"sample":"10wt%BIOGLASS","rate":1,"visc":3400},{"sample":"10wt%BIOGLASS","rate":1.26,"visc":3370},{"sample":"10wt%BIOGLASS","rate":1.58,"visc":3340},{"sample":"10wt%BIOGLASS","rate":2,"visc":3310},{"sample":"10wt%BIOGLASS","rate":2.51,"visc":3290},{"sample":"10wt%BIOGLASS","rate":3.16,"visc":3270},{"sample":"10wt%BIOGLASS","rate":3.98,"visc":3250},{"sample":"10wt%BIOGLASS","rate":5.01,"visc":3230},{"sample":"10wt%BIOGLASS","rate":6.31,"visc":3210},{"sample":"10wt%BIOGLASS","rate":7.94,"visc":3190},{"sample":"10wt%BIOGLASS","rate":10,"visc":3170},{"sample":"10wt%BIOGLASS","rate":12.6,"visc":3150},{"sample":"10wt%BIOGLASS","rate":15.8,"visc":3120},{"sample":"10wt%BIOGLASS","rate":20,"visc":3080},{"sample":"10wt%BIOGLASS","rate":25.1,"visc":2900},{"sample":"10wt%BIOGLASS","rate":31.6,"visc":1680},{"sample":"10wt%BIOGLASS","rate":39.8,"visc":985},{"sample":"10wt%BIOGLASS","rate":50.1,"visc":550},{"sample":"10wt%BIOGLASS","rate":63.1,"visc":218},{"sample":"10wt%BIOGLASS","rate":79.4,"visc":80},
{"sample":"15wt%BIOGLASS","rate":0.1,"visc":4600},{"sample":"15wt%BIOGLASS","rate":0.126,"visc":4450},{"sample":"15wt%BIOGLASS","rate":0.158,"visc":4300},{"sample":"15wt%BIOGLASS","rate":0.2,"visc":4150},{"sample":"15wt%BIOGLASS","rate":0.251,"visc":4020},{"sample":"15wt%BIOGLASS","rate":0.316,"visc":3900},{"sample":"15wt%BIOGLASS","rate":0.398,"visc":3790},{"sample":"15wt%BIOGLASS","rate":0.501,"visc":3690},{"sample":"15wt%BIOGLASS","rate":0.631,"visc":3600},{"sample":"15wt%BIOGLASS","rate":0.794,"visc":3520},{"sample":"15wt%BIOGLASS","rate":1,"visc":3450},{"sample":"15wt%BIOGLASS","rate":1.26,"visc":3380},{"sample":"15wt%BIOGLASS","rate":1.58,"visc":3320},{"sample":"15wt%BIOGLASS","rate":2,"visc":3260},{"sample":"15wt%BIOGLASS","rate":2.51,"visc":3200},{"sample":"15wt%BIOGLASS","rate":3.16,"visc":3140},{"sample":"15wt%BIOGLASS","rate":3.98,"visc":3080},{"sample":"15wt%BIOGLASS","rate":5.01,"visc":3020},{"sample":"15wt%BIOGLASS","rate":6.31,"visc":2960},{"sample":"15wt%BIOGLASS","rate":7.94,"visc":2900},{"sample":"15wt%BIOGLASS","rate":10,"visc":2850},{"sample":"15wt%BIOGLASS","rate":12.6,"visc":2780},{"sample":"15wt%BIOGLASS","rate":15.8,"visc":2600},{"sample":"15wt%BIOGLASS","rate":20,"visc":1970},{"sample":"15wt%BIOGLASS","rate":25.1,"visc":1220},{"sample":"15wt%BIOGLASS","rate":31.6,"visc":900},{"sample":"15wt%BIOGLASS","rate":39.8,"visc":700},{"sample":"15wt%BIOGLASS","rate":50.1,"visc":390},{"sample":"15wt%BIOGLASS","rate":63.1,"visc":120},{"sample":"15wt%BIOGLASS","rate":79.4,"visc":55},
{"sample":"20wt%BIOGLASS","rate":0.1,"visc":4050},{"sample":"20wt%BIOGLASS","rate":0.126,"visc":3960},{"sample":"20wt%BIOGLASS","rate":0.158,"visc":3870},{"sample":"20wt%BIOGLASS","rate":0.2,"visc":3790},{"sample":"20wt%BIOGLASS","rate":0.251,"visc":3710},{"sample":"20wt%BIOGLASS","rate":0.316,"visc":3640},{"sample":"20wt%BIOGLASS","rate":0.398,"visc":3580},{"sample":"20wt%BIOGLASS","rate":0.501,"visc":3520},{"sample":"20wt%BIOGLASS","rate":0.631,"visc":3470},{"sample":"20wt%BIOGLASS","rate":0.794,"visc":3420},{"sample":"20wt%BIOGLASS","rate":1,"visc":3380},{"sample":"20wt%BIOGLASS","rate":1.26,"visc":3340},{"sample":"20wt%BIOGLASS","rate":1.58,"visc":3300},{"sample":"20wt%BIOGLASS","rate":2,"visc":3270},{"sample":"20wt%BIOGLASS","rate":2.51,"visc":3240},{"sample":"20wt%BIOGLASS","rate":3.16,"visc":3210},{"sample":"20wt%BIOGLASS","rate":3.98,"visc":3180},{"sample":"20wt%BIOGLASS","rate":5.01,"visc":3160},{"sample":"20wt%BIOGLASS","rate":6.31,"visc":3140},{"sample":"20wt%BIOGLASS","rate":7.94,"visc":3120},{"sample":"20wt%BIOGLASS","rate":10,"visc":3100},{"sample":"20wt%BIOGLASS","rate":12.6,"visc":3080},{"sample":"20wt%BIOGLASS","rate":15.8,"visc":3060},{"sample":"20wt%BIOGLASS","rate":20,"visc":3020},{"sample":"20wt%BIOGLASS","rate":25.1,"visc":2950},{"sample":"20wt%BIOGLASS","rate":31.6,"visc":2100},{"sample":"20wt%BIOGLASS","rate":39.8,"visc":870},{"sample":"20wt%BIOGLASS","rate":50.1,"visc":552},{"sample":"20wt%BIOGLASS","rate":63.1,"visc":292},{"sample":"20wt%BIOGLASS","rate":79.4,"visc":152},{"sample":"20wt%BIOGLASS","rate":100,"visc":70}
],
"bg100": [
{"sample":"PCL","rate":0.1,"visc":2600},{"sample":"PCL","rate":0.126,"visc":2595},{"sample":"PCL","rate":0.158,"visc":2590},{"sample":"PCL","rate":0.2,"visc":2585},{"sample":"PCL","rate":0.251,"visc":2580},{"sample":"PCL","rate":0.316,"visc":2575},{"sample":"PCL","rate":0.398,"visc":2570},{"sample":"PCL","rate":0.501,"visc":2560},{"sample":"PCL","rate":0.631,"visc":2555},{"sample":"PCL","rate":0.794,"visc":2550},{"sample":"PCL","rate":1,"visc":2545},{"sample":"PCL","rate":1.26,"visc":2540},{"sample":"PCL","rate":1.58,"visc":2530},{"sample":"PCL","rate":2,"visc":2520},{"sample":"PCL","rate":2.51,"visc":2510},{"sample":"PCL","rate":3.16,"visc":2500},{"sample":"PCL","rate":3.98,"visc":2490},{"sample":"PCL","rate":5.01,"visc":2480},{"sample":"PCL","rate":6.31,"visc":2470},{"sample":"PCL","rate":7.94,"visc":2460},{"sample":"PCL","rate":10,"visc":2450},{"sample":"PCL","rate":12.6,"visc":2430},{"sample":"PCL","rate":15.8,"visc":2400},{"sample":"PCL","rate":20,"visc":2350},{"sample":"PCL","rate":25.1,"visc":1650},{"sample":"PCL","rate":31.6,"visc":1080},{"sample":"PCL","rate":39.8,"visc":746},{"sample":"PCL","rate":50.1,"visc":434},{"sample":"PCL","rate":63.1,"visc":163},{"sample":"PCL","rate":79.4,"visc":60},
{"sample":"10wt%BIOGLASS","rate":0.1,"visc":2700},{"sample":"10wt%BIOGLASS","rate":0.126,"visc":2690},{"sample":"10wt%BIOGLASS","rate":0.158,"visc":2680},{"sample":"10wt%BIOGLASS","rate":0.2,"visc":2670},{"sample":"10wt%BIOGLASS","rate":0.251,"visc":2660},{"sample":"10wt%BIOGLASS","rate":0.316,"visc":2650},{"sample":"10wt%BIOGLASS","rate":0.398,"visc":2640},{"sample":"10wt%BIOGLASS","rate":0.501,"visc":2630},{"sample":"10wt%BIOGLASS","rate":0.631,"visc":2620},{"sample":"10wt%BIOGLASS","rate":0.794,"visc":2610},{"sample":"10wt%BIOGLASS","rate":1,"visc":2600},{"sample":"10wt%BIOGLASS","rate":1.26,"visc":2590},{"sample":"10wt%BIOGLASS","rate":1.58,"visc":2580},{"sample":"10wt%BIOGLASS","rate":2,"visc":2570},{"sample":"10wt%BIOGLASS","rate":2.51,"visc":2555},{"sample":"10wt%BIOGLASS","rate":3.16,"visc":2540},{"sample":"10wt%BIOGLASS","rate":3.98,"visc":2520},{"sample":"10wt%BIOGLASS","rate":5.01,"visc":2500},{"sample":"10wt%BIOGLASS","rate":6.31,"visc":2480},{"sample":"10wt%BIOGLASS","rate":7.94,"visc":2460},{"sample":"10wt%BIOGLASS","rate":10,"visc":2440},{"sample":"10wt%BIOGLASS","rate":12.6,"visc":2420},{"sample":"10wt%BIOGLASS","rate":15.8,"visc":2390},{"sample":"10wt%BIOGLASS","rate":20,"visc":2300},{"sample":"10wt%BIOGLASS","rate":25.1,"visc":1600},{"sample":"10wt%BIOGLASS","rate":31.6,"visc":1165},{"sample":"10wt%BIOGLASS","rate":39.8,"visc":700},{"sample":"10wt%BIOGLASS","rate":50.1,"visc":382},{"sample":"10wt%BIOGLASS","rate":63.1,"visc":209},{"sample":"10wt%BIOGLASS","rate":79.4,"visc":110},{"sample":"10wt%BIOGLASS","rate":100,"visc":50},
{"sample":"15wt%BIOGLASS","rate":0.1,"visc":2850},{"sample":"15wt%BIOGLASS","rate":0.126,"visc":2820},{"sample":"15wt%BIOGLASS","rate":0.158,"visc":2790},{"sample":"15wt%BIOGLASS","rate":0.2,"visc":2760},{"sample":"15wt%BIOGLASS","rate":0.251,"visc":2730},{"sample":"15wt%BIOGLASS","rate":0.316,"visc":2700},{"sample":"15wt%BIOGLASS","rate":0.398,"visc":2670},{"sample":"15wt%BIOGLASS","rate":0.501,"visc":2640},{"sample":"15wt%BIOGLASS","rate":0.631,"visc":2610},{"sample":"15wt%BIOGLASS","rate":0.794,"visc":2580},{"sample":"15wt%BIOGLASS","rate":1,"visc":2550},{"sample":"15wt%BIOGLASS","rate":1.26,"visc":2520},{"sample":"15wt%BIOGLASS","rate":1.58,"visc":2490},{"sample":"15wt%BIOGLASS","rate":2,"visc":2460},{"sample":"15wt%BIOGLASS","rate":2.51,"visc":2430},{"sample":"15wt%BIOGLASS","rate":3.16,"visc":2400},{"sample":"15wt%BIOGLASS","rate":3.98,"visc":2370},{"sample":"15wt%BIOGLASS","rate":5.01,"visc":2340},{"sample":"15wt%BIOGLASS","rate":6.31,"visc":2310},{"sample":"15wt%BIOGLASS","rate":7.94,"visc":2280},{"sample":"15wt%BIOGLASS","rate":10,"visc":2250},{"sample":"15wt%BIOGLASS","rate":12.6,"visc":2200},{"sample":"15wt%BIOGLASS","rate":15.8,"visc":2150},{"sample":"15wt%BIOGLASS","rate":20,"visc":2050},{"sample":"15wt%BIOGLASS","rate":25.1,"visc":1300},{"sample":"15wt%BIOGLASS","rate":31.6,"visc":950},{"sample":"15wt%BIOGLASS","rate":39.8,"visc":656},{"sample":"15wt%BIOGLASS","rate":50.1,"visc":450},{"sample":"15wt%BIOGLASS","rate":63.1,"visc":250},{"sample":"15wt%BIOGLASS","rate":79.4,"visc":137},{"sample":"15wt%BIOGLASS","rate":100,"visc":60},
{"sample":"20wt%BIOGLASS","rate":0.1,"visc":2600},{"sample":"20wt%BIOGLASS","rate":0.126,"visc":2530},{"sample":"20wt%BIOGLASS","rate":0.158,"visc":2460},{"sample":"20wt%BIOGLASS","rate":0.2,"visc":2400},{"sample":"20wt%BIOGLASS","rate":0.251,"visc":2340},{"sample":"20wt%BIOGLASS","rate":0.316,"visc":2290},{"sample":"20wt%BIOGLASS","rate":0.398,"visc":2240},{"sample":"20wt%BIOGLASS","rate":0.501,"visc":2190},{"sample":"20wt%BIOGLASS","rate":0.631,"visc":2150},{"sample":"20wt%BIOGLASS","rate":0.794,"visc":2110},{"sample":"20wt%BIOGLASS","rate":1,"visc":2070},{"sample":"20wt%BIOGLASS","rate":1.26,"visc":2040},{"sample":"20wt%BIOGLASS","rate":1.58,"visc":2010},{"sample":"20wt%BIOGLASS","rate":2,"visc":1980},{"sample":"20wt%BIOGLASS","rate":2.51,"visc":1950},{"sample":"20wt%BIOGLASS","rate":3.16,"visc":1930},{"sample":"20wt%BIOGLASS","rate":3.98,"visc":1900},{"sample":"20wt%BIOGLASS","rate":5.01,"visc":1880},{"sample":"20wt%BIOGLASS","rate":6.31,"visc":1860},{"sample":"20wt%BIOGLASS","rate":7.94,"visc":1840},{"sample":"20wt%BIOGLASS","rate":10,"visc":1820},{"sample":"20wt%BIOGLASS","rate":12.6,"visc":1800},{"sample":"20wt%BIOGLASS","rate":15.8,"visc":1780},{"sample":"20wt%BIOGLASS","rate":20,"visc":1750},{"sample":"20wt%BIOGLASS","rate":25.1,"visc":1550},{"sample":"20wt%BIOGLASS","rate":31.6,"visc":1260},{"sample":"20wt%BIOGLASS","rate":39.8,"visc":960},{"sample":"20wt%BIOGLASS","rate":50.1,"visc":580},{"sample":"20wt%BIOGLASS","rate":63.1,"visc":353},{"sample":"20wt%BIOGLASS","rate":79.4,"visc":180},{"sample":"20wt%BIOGLASS","rate":100,"visc":100}
]
},
"concat": [
{"title": "A) PCL/HA 80°C", "data": {"name": "ha80"}, "width": 301, "height": 243,
 "encoding": {"x": {"field": "rate", "type": "quantitative", "title": "Shear rate (1/s)", "scale": {"type": "log", "domain": [0.1, 100]}, "axis": {"values": [0.1, 1, 10, 100], "format": "~g"}},
  "y": {"field": "visc", "type": "quantitative", "title": "Dynamic viscosity (Pa.s)", "scale": {"type": "log", "domain": [100, 10000]}, "axis": {"values": [100, 1000, 10000], "format": "~g"}}},
 "resolve": {"scale": {"shape": "independent", "stroke": "independent"}},
 "layer": [
  {"mark": {"type": "line", "clip": true, "color": "black", "strokeWidth": 1}, "encoding": {"detail": {"field": "sample"}}},
  {"mark": {"type": "point", "clip": true, "opacity": 0},
   "encoding": {
    "shape": {"field": "sample", "title": null, "scale": {"domain": ["PCL", "10wt%HA", "15wt%HA", "20wt%HA"], "range": ["M-2.5,0H2.5M-0.7,-0.7H0.7V0.7H-0.7ZM-0.7,-0.42H0.7M-0.7,-0.14H0.7M-0.7,0.14H0.7M-0.7,0.42H0.7", "M-2.5,0H-0.75M0.75,0H2.5M0.75,0L0.65,0.375L0.375,0.65L0,0.75L-0.375,0.65L-0.65,0.375L-0.75,0L-0.65,-0.375L-0.375,-0.65L0,-0.75L0.375,-0.65L0.65,-0.375Z", "M-2.5,0H-0.44M0.44,0H2.5M0,-0.8L0.8,0.65H-0.8Z", "M-2.5,0H-0.44M0.44,0H2.5M-0.8,-0.65H0.8L0,0.8ZM0,-1.1V1.1"]}},
    "stroke": {"field": "sample", "title": null, "scale": {"domain": ["PCL", "10wt%HA", "15wt%HA", "20wt%HA"], "range": ["black", "black", "black", "black"]}}}},
  {"mark": {"type": "point", "clip": true, "size": 32, "stroke": "black", "strokeWidth": 0.9, "opacity": 1},
   "encoding": {
    "shape": {"field": "sample", "scale": {"domain": ["PCL", "10wt%HA", "15wt%HA", "20wt%HA"], "range": ["square", "circle", "triangle-up", "M-1,-0.7H1L0,1ZM0,-1.3V1.3"]}, "legend": null},
    "fill": {"field": "sample", "scale": {"domain": ["PCL", "10wt%HA", "15wt%HA", "20wt%HA"], "range": ["black", "white", "white", "white"]}, "legend": null}}}
 ]},
{"title": "B) PCL/HA 90°C", "data": {"name": "ha90"}, "width": 301, "height": 243,
 "encoding": {"x": {"field": "rate", "type": "quantitative", "title": "Shear rate (1/s)", "scale": {"type": "log", "domain": [0.1, 100]}, "axis": {"values": [0.1, 1, 10, 100], "format": "~g"}},
  "y": {"field": "visc", "type": "quantitative", "title": "Dynamic viscosity (Pa.s)", "scale": {"type": "log", "domain": [100, 10000]}, "axis": {"values": [100, 1000, 10000], "format": "~g"}}},
 "resolve": {"scale": {"shape": "independent", "stroke": "independent"}},
 "layer": [
  {"mark": {"type": "line", "clip": true, "color": "black", "strokeWidth": 1}, "encoding": {"detail": {"field": "sample"}}},
  {"mark": {"type": "point", "clip": true, "opacity": 0},
   "encoding": {
    "shape": {"field": "sample", "title": null, "scale": {"domain": ["PCL", "10wt%HA", "15wt%HA", "20wt%HA"], "range": ["M-2.5,0H2.5M-0.7,-0.7H0.7V0.7H-0.7ZM-0.7,-0.42H0.7M-0.7,-0.14H0.7M-0.7,0.14H0.7M-0.7,0.42H0.7", "M-2.5,0H-0.75M0.75,0H2.5M0.75,0L0.65,0.375L0.375,0.65L0,0.75L-0.375,0.65L-0.65,0.375L-0.75,0L-0.65,-0.375L-0.375,-0.65L0,-0.75L0.375,-0.65L0.65,-0.375Z", "M-2.5,0H-0.44M0.44,0H2.5M0,-0.8L0.8,0.65H-0.8Z", "M-2.5,0H-0.44M0.44,0H2.5M-0.8,-0.65H0.8L0,0.8ZM0,-1.1V1.1"]}},
    "stroke": {"field": "sample", "title": null, "scale": {"domain": ["PCL", "10wt%HA", "15wt%HA", "20wt%HA"], "range": ["black", "black", "black", "black"]}}}},
  {"mark": {"type": "point", "clip": true, "size": 32, "stroke": "black", "strokeWidth": 0.9, "opacity": 1},
   "encoding": {
    "shape": {"field": "sample", "scale": {"domain": ["PCL", "10wt%HA", "15wt%HA", "20wt%HA"], "range": ["square", "circle", "triangle-up", "M-1,-0.7H1L0,1ZM0,-1.3V1.3"]}, "legend": null},
    "fill": {"field": "sample", "scale": {"domain": ["PCL", "10wt%HA", "15wt%HA", "20wt%HA"], "range": ["black", "white", "white", "white"]}, "legend": null}}}
 ]},
{"title": "C) PCL/HA 100°C", "data": {"name": "ha100"}, "width": 301, "height": 243,
 "encoding": {"x": {"field": "rate", "type": "quantitative", "title": "Shear rate (1/s)", "scale": {"type": "log", "domain": [0.1, 100]}, "axis": {"values": [0.1, 1, 10, 100], "format": "~g"}},
  "y": {"field": "visc", "type": "quantitative", "title": "Dynamic viscosity (Pa.s)", "scale": {"type": "log", "domain": [100, 10000]}, "axis": {"values": [100, 1000, 10000], "format": "~g"}}},
 "resolve": {"scale": {"shape": "independent", "stroke": "independent"}},
 "layer": [
  {"mark": {"type": "line", "clip": true, "color": "black", "strokeWidth": 1}, "encoding": {"detail": {"field": "sample"}}},
  {"mark": {"type": "point", "clip": true, "opacity": 0},
   "encoding": {
    "shape": {"field": "sample", "title": null, "scale": {"domain": ["PCL", "10wt%HA", "15wt%HA", "20wt%HA"], "range": ["M-2.5,0H2.5M-0.7,-0.7H0.7V0.7H-0.7ZM-0.7,-0.42H0.7M-0.7,-0.14H0.7M-0.7,0.14H0.7M-0.7,0.42H0.7", "M-2.5,0H-0.75M0.75,0H2.5M0.75,0L0.65,0.375L0.375,0.65L0,0.75L-0.375,0.65L-0.65,0.375L-0.75,0L-0.65,-0.375L-0.375,-0.65L0,-0.75L0.375,-0.65L0.65,-0.375Z", "M-2.5,0H-0.44M0.44,0H2.5M0,-0.8L0.8,0.65H-0.8Z", "M-2.5,0H-0.44M0.44,0H2.5M-0.8,-0.65H0.8L0,0.8ZM0,-1.1V1.1"]}},
    "stroke": {"field": "sample", "title": null, "scale": {"domain": ["PCL", "10wt%HA", "15wt%HA", "20wt%HA"], "range": ["black", "black", "black", "black"]}}}},
  {"mark": {"type": "point", "clip": true, "size": 32, "stroke": "black", "strokeWidth": 0.9, "opacity": 1},
   "encoding": {
    "shape": {"field": "sample", "scale": {"domain": ["PCL", "10wt%HA", "15wt%HA", "20wt%HA"], "range": ["square", "circle", "triangle-up", "M-1,-0.7H1L0,1ZM0,-1.3V1.3"]}, "legend": null},
    "fill": {"field": "sample", "scale": {"domain": ["PCL", "10wt%HA", "15wt%HA", "20wt%HA"], "range": ["black", "white", "white", "white"]}, "legend": null}}}
 ]},
{"title": "D) PCL/TCP 80°C", "data": {"name": "tcp80"}, "width": 301, "height": 243,
 "encoding": {"x": {"field": "rate", "type": "quantitative", "title": "Shear rate (1/s)", "scale": {"type": "log", "domain": [0.1, 100]}, "axis": {"values": [0.1, 1, 10, 100], "format": "~g"}},
  "y": {"field": "visc", "type": "quantitative", "title": "Dynamic viscosity (Pa.s)", "scale": {"type": "log", "domain": [100, 10000]}, "axis": {"values": [100, 1000, 10000], "format": "~g"}}},
 "resolve": {"scale": {"shape": "independent", "stroke": "independent"}},
 "layer": [
  {"mark": {"type": "line", "clip": true, "color": "black", "strokeWidth": 1}, "encoding": {"detail": {"field": "sample"}}},
  {"mark": {"type": "point", "clip": true, "opacity": 0},
   "encoding": {
    "shape": {"field": "sample", "title": null, "scale": {"domain": ["PCL", "10wt%TCP", "15wt%TCP", "20wt%TCP"], "range": ["M-2.5,0H2.5M-0.7,-0.7H0.7V0.7H-0.7ZM-0.7,-0.42H0.7M-0.7,-0.14H0.7M-0.7,0.14H0.7M-0.7,0.42H0.7", "M-2.5,0H-0.75M0.75,0H2.5M0.75,0L0.65,0.375L0.375,0.65L0,0.75L-0.375,0.65L-0.65,0.375L-0.75,0L-0.65,-0.375L-0.375,-0.65L0,-0.75L0.375,-0.65L0.65,-0.375Z", "M-2.5,0H-0.44M0.44,0H2.5M0,-0.8L0.8,0.65H-0.8Z", "M-2.5,0H-0.44M0.44,0H2.5M-0.8,-0.65H0.8L0,0.8ZM0,-1.1V1.1"]}},
    "stroke": {"field": "sample", "title": null, "scale": {"domain": ["PCL", "10wt%TCP", "15wt%TCP", "20wt%TCP"], "range": ["black", "black", "black", "black"]}}}},
  {"mark": {"type": "point", "clip": true, "size": 32, "stroke": "black", "strokeWidth": 0.9, "opacity": 1},
   "encoding": {
    "shape": {"field": "sample", "scale": {"domain": ["PCL", "10wt%TCP", "15wt%TCP", "20wt%TCP"], "range": ["square", "circle", "triangle-up", "M-1,-0.7H1L0,1ZM0,-1.3V1.3"]}, "legend": null},
    "fill": {"field": "sample", "scale": {"domain": ["PCL", "10wt%TCP", "15wt%TCP", "20wt%TCP"], "range": ["black", "white", "white", "white"]}, "legend": null}}}
 ]},
{"title": "E) PCL/TCP 90°C", "data": {"name": "tcp90"}, "width": 301, "height": 243,
 "encoding": {"x": {"field": "rate", "type": "quantitative", "title": "Shear rate (1/s)", "scale": {"type": "log", "domain": [0.1, 100]}, "axis": {"values": [0.1, 1, 10, 100], "format": "~g"}},
  "y": {"field": "visc", "type": "quantitative", "title": "Dynamic viscosity (Pa.s)", "scale": {"type": "log", "domain": [100, 10000]}, "axis": {"values": [100, 1000, 10000], "format": "~g"}}},
 "resolve": {"scale": {"shape": "independent", "stroke": "independent"}},
 "layer": [
  {"mark": {"type": "line", "clip": true, "color": "black", "strokeWidth": 1}, "encoding": {"detail": {"field": "sample"}}},
  {"mark": {"type": "point", "clip": true, "opacity": 0},
   "encoding": {
    "shape": {"field": "sample", "title": null, "scale": {"domain": ["PCL", "10wt%TCP", "15wt%TCP", "20wt%TCP"], "range": ["M-2.5,0H2.5M-0.7,-0.7H0.7V0.7H-0.7ZM-0.7,-0.42H0.7M-0.7,-0.14H0.7M-0.7,0.14H0.7M-0.7,0.42H0.7", "M-2.5,0H-0.75M0.75,0H2.5M0.75,0L0.65,0.375L0.375,0.65L0,0.75L-0.375,0.65L-0.65,0.375L-0.75,0L-0.65,-0.375L-0.375,-0.65L0,-0.75L0.375,-0.65L0.65,-0.375Z", "M-2.5,0H-0.44M0.44,0H2.5M0,-0.8L0.8,0.65H-0.8Z", "M-2.5,0H-0.44M0.44,0H2.5M-0.8,-0.65H0.8L0,0.8ZM0,-1.1V1.1"]}},
    "stroke": {"field": "sample", "title": null, "scale": {"domain": ["PCL", "10wt%TCP", "15wt%TCP", "20wt%TCP"], "range": ["black", "black", "black", "black"]}}}},
  {"mark": {"type": "point", "clip": true, "size": 32, "stroke": "black", "strokeWidth": 0.9, "opacity": 1},
   "encoding": {
    "shape": {"field": "sample", "scale": {"domain": ["PCL", "10wt%TCP", "15wt%TCP", "20wt%TCP"], "range": ["square", "circle", "triangle-up", "M-1,-0.7H1L0,1ZM0,-1.3V1.3"]}, "legend": null},
    "fill": {"field": "sample", "scale": {"domain": ["PCL", "10wt%TCP", "15wt%TCP", "20wt%TCP"], "range": ["black", "white", "white", "white"]}, "legend": null}}}
 ]},
{"title": "F) PCL/TCP 100°C", "data": {"name": "tcp100"}, "width": 301, "height": 243,
 "encoding": {"x": {"field": "rate", "type": "quantitative", "title": "Shear rate (1/s)", "scale": {"type": "log", "domain": [0.1, 100]}, "axis": {"values": [0.1, 1, 10, 100], "format": "~g"}},
  "y": {"field": "visc", "type": "quantitative", "title": "Dynamic viscosity (Pa.s)", "scale": {"type": "log", "domain": [100, 10000]}, "axis": {"values": [100, 1000, 10000], "format": "~g"}}},
 "resolve": {"scale": {"shape": "independent", "stroke": "independent"}},
 "layer": [
  {"mark": {"type": "line", "clip": true, "color": "black", "strokeWidth": 1}, "encoding": {"detail": {"field": "sample"}}},
  {"mark": {"type": "point", "clip": true, "opacity": 0},
   "encoding": {
    "shape": {"field": "sample", "title": null, "scale": {"domain": ["PCL", "10wt%TCP", "15wt%TCP", "20wt%TCP"], "range": ["M-2.5,0H2.5M-0.7,-0.7H0.7V0.7H-0.7ZM-0.7,-0.42H0.7M-0.7,-0.14H0.7M-0.7,0.14H0.7M-0.7,0.42H0.7", "M-2.5,0H-0.75M0.75,0H2.5M0.75,0L0.65,0.375L0.375,0.65L0,0.75L-0.375,0.65L-0.65,0.375L-0.75,0L-0.65,-0.375L-0.375,-0.65L0,-0.75L0.375,-0.65L0.65,-0.375Z", "M-2.5,0H-0.44M0.44,0H2.5M0,-0.8L0.8,0.65H-0.8Z", "M-2.5,0H-0.44M0.44,0H2.5M-0.8,-0.65H0.8L0,0.8ZM0,-1.1V1.1"]}},
    "stroke": {"field": "sample", "title": null, "scale": {"domain": ["PCL", "10wt%TCP", "15wt%TCP", "20wt%TCP"], "range": ["black", "black", "black", "black"]}}}},
  {"mark": {"type": "point", "clip": true, "size": 32, "stroke": "black", "strokeWidth": 0.9, "opacity": 1},
   "encoding": {
    "shape": {"field": "sample", "scale": {"domain": ["PCL", "10wt%TCP", "15wt%TCP", "20wt%TCP"], "range": ["square", "circle", "triangle-up", "M-1,-0.7H1L0,1ZM0,-1.3V1.3"]}, "legend": null},
    "fill": {"field": "sample", "scale": {"domain": ["PCL", "10wt%TCP", "15wt%TCP", "20wt%TCP"], "range": ["black", "white", "white", "white"]}, "legend": null}}}
 ]},
{"title": "G) PCL/BIOGLASS 80°C", "data": {"name": "bg80"}, "width": 301, "height": 243,
 "encoding": {"x": {"field": "rate", "type": "quantitative", "title": "Shear rate (1/s)", "scale": {"type": "log", "domain": [0.1, 100]}, "axis": {"values": [0.1, 1, 10, 100], "format": "~g"}},
  "y": {"field": "visc", "type": "quantitative", "title": "Dynamic viscosity (Pa.s)", "scale": {"type": "log", "domain": [100, 10000]}, "axis": {"values": [100, 1000, 10000], "format": "~g"}}},
 "resolve": {"scale": {"shape": "independent", "stroke": "independent"}},
 "layer": [
  {"mark": {"type": "line", "clip": true, "color": "black", "strokeWidth": 1}, "encoding": {"detail": {"field": "sample"}}},
  {"mark": {"type": "point", "clip": true, "opacity": 0},
   "encoding": {
    "shape": {"field": "sample", "title": null, "legend": {"labelFontSize": 7}, "scale": {"domain": ["PCL", "10wt%BIOGLASS", "15wt%BIOGLASS", "20wt%BIOGLASS"], "range": ["M-2.5,0H2.5M-0.7,-0.7H0.7V0.7H-0.7ZM-0.7,-0.42H0.7M-0.7,-0.14H0.7M-0.7,0.14H0.7M-0.7,0.42H0.7", "M-2.5,0H-0.75M0.75,0H2.5M0.75,0L0.65,0.375L0.375,0.65L0,0.75L-0.375,0.65L-0.65,0.375L-0.75,0L-0.65,-0.375L-0.375,-0.65L0,-0.75L0.375,-0.65L0.65,-0.375Z", "M-2.5,0H-0.44M0.44,0H2.5M0,-0.8L0.8,0.65H-0.8Z", "M-2.5,0H-0.44M0.44,0H2.5M-0.8,-0.65H0.8L0,0.8ZM0,-1.1V1.1"]}},
    "stroke": {"field": "sample", "title": null, "legend": {"labelFontSize": 7}, "scale": {"domain": ["PCL", "10wt%BIOGLASS", "15wt%BIOGLASS", "20wt%BIOGLASS"], "range": ["black", "black", "black", "black"]}}}},
  {"mark": {"type": "point", "clip": true, "size": 32, "stroke": "black", "strokeWidth": 0.9, "opacity": 1},
   "encoding": {
    "shape": {"field": "sample", "scale": {"domain": ["PCL", "10wt%BIOGLASS", "15wt%BIOGLASS", "20wt%BIOGLASS"], "range": ["square", "circle", "triangle-up", "M-1,-0.7H1L0,1ZM0,-1.3V1.3"]}, "legend": null},
    "fill": {"field": "sample", "scale": {"domain": ["PCL", "10wt%BIOGLASS", "15wt%BIOGLASS", "20wt%BIOGLASS"], "range": ["black", "white", "white", "white"]}, "legend": null}}}
 ]},
{"title": "H) PCL/BIOGLASS 90°C", "data": {"name": "bg90"}, "width": 301, "height": 243,
 "encoding": {"x": {"field": "rate", "type": "quantitative", "title": "Shear rate (1/s)", "scale": {"type": "log", "domain": [0.1, 100]}, "axis": {"values": [0.1, 1, 10, 100], "format": "~g"}},
  "y": {"field": "visc", "type": "quantitative", "title": "Dynamic viscosity (Pa.s)", "scale": {"type": "log", "domain": [100, 10000]}, "axis": {"values": [100, 1000, 10000], "format": "~g"}}},
 "resolve": {"scale": {"shape": "independent", "stroke": "independent"}},
 "layer": [
  {"mark": {"type": "line", "clip": true, "color": "black", "strokeWidth": 1}, "encoding": {"detail": {"field": "sample"}}},
  {"mark": {"type": "point", "clip": true, "opacity": 0},
   "encoding": {
    "shape": {"field": "sample", "title": null, "scale": {"domain": ["PCL", "10wt%BIOGLASS", "15wt%BIOGLASS", "20wt%BIOGLASS"], "range": ["M-2.5,0H2.5M-0.7,-0.7H0.7V0.7H-0.7ZM-0.7,-0.42H0.7M-0.7,-0.14H0.7M-0.7,0.14H0.7M-0.7,0.42H0.7", "M-2.5,0H-0.75M0.75,0H2.5M0.75,0L0.65,0.375L0.375,0.65L0,0.75L-0.375,0.65L-0.65,0.375L-0.75,0L-0.65,-0.375L-0.375,-0.65L0,-0.75L0.375,-0.65L0.65,-0.375Z", "M-2.5,0H-0.44M0.44,0H2.5M0,-0.8L0.8,0.65H-0.8Z", "M-2.5,0H-0.44M0.44,0H2.5M-0.8,-0.65H0.8L0,0.8ZM0,-1.1V1.1"]}},
    "stroke": {"field": "sample", "title": null, "scale": {"domain": ["PCL", "10wt%BIOGLASS", "15wt%BIOGLASS", "20wt%BIOGLASS"], "range": ["black", "black", "black", "black"]}}}},
  {"mark": {"type": "point", "clip": true, "size": 32, "stroke": "black", "strokeWidth": 0.9, "opacity": 1},
   "encoding": {
    "shape": {"field": "sample", "scale": {"domain": ["PCL", "10wt%BIOGLASS", "15wt%BIOGLASS", "20wt%BIOGLASS"], "range": ["square", "circle", "triangle-up", "M-1,-0.7H1L0,1ZM0,-1.3V1.3"]}, "legend": null},
    "fill": {"field": "sample", "scale": {"domain": ["PCL", "10wt%BIOGLASS", "15wt%BIOGLASS", "20wt%BIOGLASS"], "range": ["black", "white", "white", "white"]}, "legend": null}}}
 ]},
{"title": "I) PCL/BIOGLASS 100°C", "data": {"name": "bg100"}, "width": 301, "height": 243,
 "encoding": {"x": {"field": "rate", "type": "quantitative", "title": "Shear rate (1/s)", "scale": {"type": "log", "domain": [0.1, 100]}, "axis": {"values": [0.1, 1, 10, 100], "format": "~g"}},
  "y": {"field": "visc", "type": "quantitative", "title": "Dynamic viscosity (Pa.s)", "scale": {"type": "log", "domain": [100, 10000]}, "axis": {"values": [100, 1000, 10000], "format": "~g"}}},
 "resolve": {"scale": {"shape": "independent", "stroke": "independent"}},
 "layer": [
  {"mark": {"type": "line", "clip": true, "color": "black", "strokeWidth": 1}, "encoding": {"detail": {"field": "sample"}}},
  {"mark": {"type": "point", "clip": true, "opacity": 0},
   "encoding": {
    "shape": {"field": "sample", "title": null, "scale": {"domain": ["PCL", "10wt%BIOGLASS", "15wt%BIOGLASS", "20wt%BIOGLASS"], "range": ["M-2.5,0H2.5M-0.7,-0.7H0.7V0.7H-0.7ZM-0.7,-0.42H0.7M-0.7,-0.14H0.7M-0.7,0.14H0.7M-0.7,0.42H0.7", "M-2.5,0H-0.75M0.75,0H2.5M0.75,0L0.65,0.375L0.375,0.65L0,0.75L-0.375,0.65L-0.65,0.375L-0.75,0L-0.65,-0.375L-0.375,-0.65L0,-0.75L0.375,-0.65L0.65,-0.375Z", "M-2.5,0H-0.44M0.44,0H2.5M0,-0.8L0.8,0.65H-0.8Z", "M-2.5,0H-0.44M0.44,0H2.5M-0.8,-0.65H0.8L0,0.8ZM0,-1.1V1.1"]}},
    "stroke": {"field": "sample", "title": null, "scale": {"domain": ["PCL", "10wt%BIOGLASS", "15wt%BIOGLASS", "20wt%BIOGLASS"], "range": ["black", "black", "black", "black"]}}}},
  {"mark": {"type": "point", "clip": true, "size": 32, "stroke": "black", "strokeWidth": 0.9, "opacity": 1},
   "encoding": {
    "shape": {"field": "sample", "scale": {"domain": ["PCL", "10wt%BIOGLASS", "15wt%BIOGLASS", "20wt%BIOGLASS"], "range": ["square", "circle", "triangle-up", "M-1,-0.7H1L0,1ZM0,-1.3V1.3"]}, "legend": null},
    "fill": {"field": "sample", "scale": {"domain": ["PCL", "10wt%BIOGLASS", "15wt%BIOGLASS", "20wt%BIOGLASS"], "range": ["black", "white", "white", "white"]}, "legend": null}}}
 ]}
],
"config": {
 "font": "Liberation Sans",
 "view": {"stroke": "black", "strokeWidth": 1},
 "title": {"font": "Liberation Serif", "fontSize": 21, "fontWeight": "bold", "color": "black", "anchor": "start", "frame": "group", "dx": -27, "offset": 14},
 "axis": {"grid": false, "domainColor": "black", "domainWidth": 1, "tickColor": "black", "tickSize": 3, "labelColor": "black", "labelFont": "Liberation Sans", "labelFontSize": 8.5, "labelPadding": 1, "labelFlush": false, "titleColor": "black", "titleFont": "Liberation Sans", "titleFontSize": 12.5, "titleFontWeight": "bold"},
 "axisX": {"titlePadding": 5},
 "axisY": {"titlePadding": 8},
 "legend": {"orient": "top-right", "offset": 3, "padding": 2, "strokeColor": "black", "strokeWidth": 1, "fillColor": "white", "symbolSize": 64, "symbolFillColor": "white", "symbolStrokeWidth": 1, "symbolOpacity": 1, "symbolOffset": 6, "labelOffset": 13, "labelFont": "Liberation Sans", "labelFontSize": 8, "labelColor": "black", "rowPadding": -2}
}
}
